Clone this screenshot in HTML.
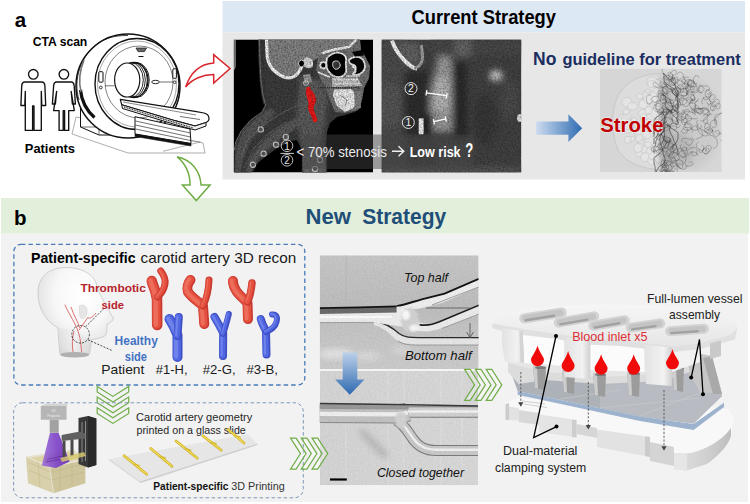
<!DOCTYPE html>
<html><head><meta charset="utf-8"><style>
html,body{margin:0;padding:0;background:#fff;}
body{width:750px;height:504px;overflow:hidden;font-family:"Liberation Sans",sans-serif;}
svg{display:block;}
</style></head><body>
<svg width="750" height="504" viewBox="0 0 750 504" font-family="Liberation Sans, sans-serif"><defs>
<linearGradient id="gArrowB" x1="0" y1="0" x2="1" y2="0"><stop offset="0" stop-color="#cddcef"/><stop offset="1" stop-color="#2f6cb3"/></linearGradient>
<linearGradient id="gArrowD" x1="0" y1="0" x2="0" y2="1"><stop offset="0" stop-color="#bcd0ea"/><stop offset="1" stop-color="#2e6ab0"/></linearGradient>
<filter id="b05" x="-10%" y="-10%" width="120%" height="120%"><feGaussianBlur stdDeviation="0.5"/></filter>
<filter id="b1" x="-10%" y="-10%" width="120%" height="120%"><feGaussianBlur stdDeviation="1"/></filter>
<filter id="b2" x="-20%" y="-20%" width="140%" height="140%"><feGaussianBlur stdDeviation="2"/></filter>
<filter id="b3" x="-30%" y="-30%" width="160%" height="160%"><feGaussianBlur stdDeviation="3"/></filter>
<filter id="b5" x="-40%" y="-40%" width="180%" height="180%"><feGaussianBlur stdDeviation="5"/></filter>
<filter id="nz" x="0" y="0" width="100%" height="100%"><feTurbulence type="fractalNoise" baseFrequency="0.6" numOctaves="2" seed="9" result="t"/><feColorMatrix in="t" type="matrix" values="0 0 0 0 0  0 0 0 0 0  0 0 0 0 0  0 0 0 1.6 -0.55" result="m"/><feComposite in="m" in2="SourceGraphic" operator="in"/></filter>
<filter id="nzw" x="0" y="0" width="100%" height="100%"><feTurbulence type="fractalNoise" baseFrequency="0.5" numOctaves="2" seed="5" result="t"/><feColorMatrix in="t" type="matrix" values="0 0 0 0 1  0 0 0 0 1  0 0 0 0 1  0 0 0 1.4 -0.6" result="m"/><feComposite in="m" in2="SourceGraphic" operator="in"/></filter>
<clipPath id="cCT1"><rect x="233.6" y="39.5" width="139.4" height="133"/></clipPath>
<clipPath id="cCT2"><rect x="381.6" y="39.5" width="139.8" height="133"/></clipPath>
<clipPath id="cSTK"><rect x="600" y="68.7" width="121.7" height="103.3"/></clipPath>
<clipPath id="cPH1"><rect x="319.7" y="255.3" width="158.9" height="113.9"/></clipPath>
<clipPath id="cPH2"><rect x="319.8" y="370.8" width="158.2" height="114.5"/></clipPath>
<radialGradient id="gHead" cx="0.58" cy="0.32" r="0.72"><stop offset="0" stop-color="#ffffff"/><stop offset="0.5" stop-color="#f7f7f7"/><stop offset="0.85" stop-color="#e2e2e2"/><stop offset="1" stop-color="#cdcdcd"/></radialGradient>
<linearGradient id="gNeck" x1="0" y1="0" x2="1" y2="0"><stop offset="0" stop-color="#d6d6d6"/><stop offset="0.5" stop-color="#f4f4f4"/><stop offset="1" stop-color="#d0d0d0"/></linearGradient>
<linearGradient id="gPurp" x1="0" y1="0" x2="1" y2="0"><stop offset="0" stop-color="#9a6ad8"/><stop offset="0.5" stop-color="#7a3ec6"/><stop offset="1" stop-color="#6428b4"/></linearGradient>
<linearGradient id="gPh1" x1="0" y1="0" x2="0" y2="1"><stop offset="0" stop-color="#c6c6c6"/><stop offset="0.45" stop-color="#bdbdbd"/><stop offset="0.65" stop-color="#c4c4c4"/><stop offset="1" stop-color="#cbcbcb"/></linearGradient>
<linearGradient id="gPh2" x1="0" y1="0" x2="1" y2="0"><stop offset="0" stop-color="#d4d4d4"/><stop offset="1" stop-color="#d8d8d8"/></linearGradient>
<linearGradient id="gTube" x1="0" y1="0" x2="0" y2="1"><stop offset="0" stop-color="#9a9a9a"/><stop offset="0.3" stop-color="#f2f2f2"/><stop offset="0.6" stop-color="#d8d8d8"/><stop offset="1" stop-color="#a8a8a8"/></linearGradient>
<linearGradient id="gRed" x1="0" y1="0" x2="1" y2="0"><stop offset="0" stop-color="#c8302a"/><stop offset="0.45" stop-color="#ea4a3c"/><stop offset="1" stop-color="#c02a24"/></linearGradient>
<linearGradient id="gVat" x1="0" y1="0" x2="0" y2="1"><stop offset="0" stop-color="#e4dab0"/><stop offset="1" stop-color="#cbbd85"/></linearGradient>
<linearGradient id="gSlab" x1="0" y1="0" x2="0" y2="1"><stop offset="0" stop-color="#f6f6f6"/><stop offset="1" stop-color="#e6e6e6"/></linearGradient>
<linearGradient id="gFront" x1="0" y1="0" x2="0" y2="1"><stop offset="0" stop-color="#e8e8e8"/><stop offset="1" stop-color="#d2d2d2"/></linearGradient>
<linearGradient id="gSlide" x1="0" y1="0" x2="1" y2="0"><stop offset="0" stop-color="#a2a9b2"/><stop offset="1" stop-color="#b9bfc6"/></linearGradient>
<linearGradient id="gLeg" x1="0" y1="0" x2="1" y2="0"><stop offset="0" stop-color="#e2e2e2"/><stop offset="0.7" stop-color="#f2f2f2"/><stop offset="1" stop-color="#cfcfcf"/></linearGradient>
<linearGradient id="gCurve" x1="0" y1="0" x2="1" y2="0"><stop offset="0" stop-color="#e0e0e0"/><stop offset="0.6" stop-color="#cfcfcf"/><stop offset="1" stop-color="#bdbdbd"/></linearGradient>
</defs>
<rect x="222.5" y="1" width="522.5" height="31.5" fill="#dde8f5"/>
<rect x="222.5" y="32.5" width="522.5" height="147" fill="#e7e7e7"/>
<text x="411.5" y="24" font-size="19.5" font-weight="bold" font-style="normal" fill="#000" text-anchor="start" textLength="144.5" lengthAdjust="spacingAndGlyphs" >Current Strategy</text>
<g clip-path="url(#cCT1)">
<rect x="233.6" y="39.5" width="139.4" height="133" fill="#000"/>
<path d="M259.5,39.5 L360,39.5 L361,50 L365,56 L370,66 L369,78 L364,88 L362,100 L360,108 L355,112 L345,115 L337,117 L330,123 L327,132 L326,145 L326.5,173 L302,173 L302,150 L297,140 L290,141 L283,145 L276,149 L268,155 L260,161 L253,168 L249,173 L234.4,173 L234.4,150 L235.8,141.9 L241.3,130.8 L251,119.7 L262,112 L265.5,105 L263,95 L261,80 L260,60 Z" fill="#3e3e3e" filter="url(#b05)"/>
<path d="M260.5,39.5 L261,60 L262,80 L264,95 L266,104" stroke="#3a3a3a" stroke-width="5" fill="none"/>
<path d="M236,150 L243,131 L253,121 L263,113 L270,108 L276,112 L268,122 L258,132 L250,142 L244,156 L240,173 L235,173 Z" fill="#565656" filter="url(#b1)"/>
<path d="M245,173 L250,158 L260,144 L273,132 L288,122 L300,116 L305,122 L292,131 L279,140 L267,150 L257,161 L252,173 Z" fill="#5a5a5a" filter="url(#b1)"/>
<path d="M240,160 L248,140 L262,126 L280,114 L296,106 M244,168 L254,148 L268,134 L286,122" stroke="#6e6e6e" stroke-width="1" fill="none" opacity="0.7"/>
<path d="M298,78 L324,80 L328,100 L324,130 L320,150 L303,150 L298,130 L296,100 Z" fill="#5c5c5c" filter="url(#b2)"/>
<path d="M303,148 L326,148 L326,173 L303,173 Z" fill="#6a6a6a" filter="url(#b1)"/>
<path d="M268,80 L298,80 L298,100 L270,106 Z" fill="#3c3c3c" filter="url(#b2)"/>
<path d="M259.5,39.5 L260,60 L261,80 L263,95 L265.5,105 L262,112 L251,119.7 L241.3,130.8 L235.8,141.9 L234.4,150" stroke="#7a7a7a" stroke-width="0.9" fill="none"/>
<path d="M268.5,39.5 L356,39.5 L349,47 L336,49 L324,52 L318,58 L308,64 L301,67 L297,74 L286,77 L276,72 L270,63 L268,50 Z" fill="#838383" />
<path d="M266.6,39.5 L267,55 C268,66 274,73 285,77.5 C292,79 297,76 300,70 L302,66" stroke="#f4f4f4" stroke-width="3.2" fill="none"/>
<path d="M322,53.5 C332,49.5 342,48 349,47 L356.5,39.5" stroke="#eee" stroke-width="2" fill="none"/>
<path d="M318,58 L324,52 L349,47 L356,39.5 L360,39.5 L361,50 L365,56 L370,66 L369,78 L364,88 L362,100 L358,110 L345,113 L335,112 L330,100 L324,85 L316,70 Z" fill="#727272" filter="url(#b05)"/>
<path d="M322,53.5 C332,49.5 342,48 349,47 L356.5,39.5" stroke="#eee" stroke-width="2.4" fill="none"/>
<g stroke="#efefef" stroke-width="1.8" stroke-linejoin="round">
<path d="M327,58 C331,54 336,52 340,53 C344,54 347,57 346,62 C345,66 348,70 345,74 C342,78 336,78 332,75 C328,72 325,66 327,58 Z" fill="#050505"/>
<path d="M349,60 C352,57 357,56 361,58 C365,61 366,66 364,70 C362,74 357,76 353,74 C356,71 357,67 354,65 C351,64 349,64 349,60 Z" fill="#050505"/>
<path d="M352,66 C355,68 357,70 355,73" fill="none"/>
<ellipse cx="323.3" cy="65.3" rx="3" ry="3.2" fill="#050505"/>
<path d="M333,62 C336,60 339,61 340,64 C341,67 338,70 335,69 C333,68 332,65 333,62 Z" fill="#3a3a3a" stroke-width="1"/>
</g>
<path d="M330,50 L342,49 M318,72 C322,74 326,76 330,77 M346,76 L360,76" stroke="#e8e8e8" stroke-width="1.4" fill="none"/>
<path d="M352,52 L362,50 L364,55.5 L355,56.5 Z" fill="#050505" />
<path d="M332,78 L358,77.5 L362,86 L332,87 Z" fill="#bdbdbd" filter="url(#b05)"/>
<path d="M333,80 L358,79.5 M335,84 L360,83.5" stroke="#efefef" stroke-width="1.2"/>
<path d="M318,87.8 L360,87.8" stroke="#1a1a1a" stroke-width="1.1" stroke-dasharray="1.2 1"/>
<path d="M334,89.5 L351,89 L357,95 L354,108 L345,112 L337,106 L333,96 Z" fill="#ececec" filter="url(#b05)"/>
<path d="M340,95 L347,100 L345,106" stroke="#888" stroke-width="1" fill="none"/>
<path d="M354,92 L361,92 L361,108 L355,110 Z" fill="#828282" filter="url(#b05)"/>
<ellipse cx="301.5" cy="63.5" rx="3" ry="3.5" fill="#000" stroke="#ddd" stroke-width="1"/>
<path d="M304,58 C310,56 314,60 313,66 C311,69 306,69 304,66 Z" fill="#d8d8d8" filter="url(#b05)"/>
<path d="M303,75 L310,74 L312,82 L305,84 Z" fill="#9a9a9a" filter="url(#b05)"/>
<circle cx="306" cy="83" r="2.4" fill="none" stroke="#ccc" stroke-width="1"/>
<path d="M308.5,89 C306.5,95 312,99 310.5,105 C309,111 314,113 315,120" stroke="#ee1a1a" stroke-width="4.6" fill="none" stroke-linecap="round"/>
<path d="M311,92 C314,96 316,100 313,104 C311,108 312,112 313.5,116" stroke="#e81818" stroke-width="3.2" fill="none" stroke-linecap="round"/>
<circle cx="253" cy="164.8" r="2.6" fill="#5a5a5a" stroke="#c4c4c4" stroke-width="1.2"/>
<circle cx="263.6" cy="153.7" r="2.6" fill="#5a5a5a" stroke="#c4c4c4" stroke-width="1.2"/>
<circle cx="276" cy="144.7" r="2.6" fill="#5a5a5a" stroke="#c4c4c4" stroke-width="1.2"/>
<circle cx="285.8" cy="137" r="2.6" fill="#5a5a5a" stroke="#c4c4c4" stroke-width="1.2"/>
<circle cx="260.8" cy="129.4" r="2.6" fill="#5a5a5a" stroke="#c4c4c4" stroke-width="1.2"/>
<circle cx="320" cy="160" r="2.6" fill="#5a5a5a" stroke="#c4c4c4" stroke-width="1.2"/>
<circle cx="315" cy="169" r="2.6" fill="#5a5a5a" stroke="#c4c4c4" stroke-width="1.2"/>
<rect x="233.6" y="39.5" width="139.4" height="133" fill="#000" filter="url(#nz)" opacity="0.45"/>
<path d="M235,39.5 L235,66 C235,68 234,69 233.6,70" stroke="#cfcfcf" stroke-width="1" fill="none"/>
</g>
<g clip-path="url(#cCT2)">
<rect x="381.6" y="39.5" width="139.8" height="133" fill="#424242"/>
<g filter="url(#b3)">
<rect x="378" y="39" width="28" height="134" fill="#4e4e4e"/>
<rect x="378" y="85" width="22" height="40" fill="#575757"/>
<path d="M395,42 L420,42 L422,64 L408,66 Z" fill="#626262"/>
<path d="M404,72 L428,70 L428,136 L404,136 Z" fill="#2e2e2e"/>
<path d="M438,56 L451,56 L453,80 L452,132 L429,132 L430,95 Z" fill="#9a9a9a"/>
<path d="M435,78 L448,78 L449,110 L433,110 Z" fill="#b6b6b6"/>
<path d="M452,62 L466,62 L468,173 L455,173 Z" fill="#2c2c2c"/>
<rect x="430" y="39" width="92" height="16" fill="#4a4a4a"/>
<rect x="455" y="39" width="16" height="18" fill="#666"/>
<ellipse cx="496" cy="75.5" rx="6.5" ry="5.5" fill="#d2d2d2"/>
<ellipse cx="485" cy="120" rx="12" ry="25" fill="#393939"/>
<ellipse cx="510" cy="100" rx="9" ry="20" fill="#4c4c4c"/>
<rect x="424" y="114" width="9" height="20" fill="#1e1e1e"/>
<rect x="436" y="140" width="34" height="33" fill="#4a4a4a"/>
<rect x="381" y="167" width="140" height="8" fill="#575757"/>
</g>
<path d="M392,40.5 C395,50 400,56 405,61 C410,66 414,68.5 417,68.5" stroke="#f2f2f2" stroke-width="4" fill="none" filter="url(#b05)"/>
<path d="M414,68 C418,68 422,64 422.6,58 L421.5,45" stroke="#9a9a9a" stroke-width="3" fill="none" filter="url(#b05)"/>
<rect x="418.7" y="118.3" width="4.9" height="16" fill="#f0f0f0" filter="url(#b05)"/>
<ellipse cx="520" cy="118" rx="3" ry="4" fill="#ddd" filter="url(#b05)"/>
<rect x="381.6" y="39.5" width="139.8" height="133" fill="#000" filter="url(#nz)" opacity="0.4"/>
</g>
<circle cx="411" cy="88.6" r="6" fill="none" stroke="#f4f4f4" stroke-width="0.9"/>
<text x="411" y="92.39999999999999" font-size="10.5" font-weight="normal" font-style="normal" fill="#f4f4f4" text-anchor="middle" >2</text>
<circle cx="408.3" cy="122.5" r="6" fill="none" stroke="#f4f4f4" stroke-width="0.9"/>
<text x="408.3" y="126.3" font-size="10.5" font-weight="normal" font-style="normal" fill="#f4f4f4" text-anchor="middle" >1</text>
<path d="M426.4,92.8 L446.7,95.6 M426.8,90.1 L426,95.5 M447.1,92.9 L446.3,98.3" stroke="#fff" stroke-width="1.3"/>
<path d="M433.9,121.7 L445.8,118.9 M433.4,119.1 L434.4,124.3 M445.3,116.3 L446.3,121.5" stroke="#fff" stroke-width="1.3"/>
<rect x="304" y="134.5" width="170" height="34.5" fill="rgb(67,67,67)" fill-opacity="0.47"/>
<circle cx="287" cy="145.8" r="5.8" fill="none" stroke="#e8e8e8" stroke-width="0.8"/>
<text x="287" y="149.5" font-size="10" font-weight="normal" font-style="normal" fill="#e8e8e8" text-anchor="middle" >1</text>
<circle cx="287" cy="160.3" r="5.8" fill="none" stroke="#e8e8e8" stroke-width="0.8"/>
<text x="287" y="164.0" font-size="10" font-weight="normal" font-style="normal" fill="#e8e8e8" text-anchor="middle" >2</text>
<rect x="280.5" y="152.9" width="13.3" height="0.9" fill="#e8e8e8"/>
<text x="296.6" y="156.5" font-size="14" font-weight="normal" font-style="normal" fill="#ececec" text-anchor="start" textLength="90.2" lengthAdjust="spacingAndGlyphs" >&lt; 70% stenosis</text>
<path d="M392,151.3 L403.5,151.3 M398.5,146.3 L403.8,151.3 L398.5,156.3" stroke="#f0f0f0" stroke-width="1.4" fill="none"/>
<text x="409.7" y="156.5" font-size="14" font-weight="bold" font-style="normal" fill="#fff" text-anchor="start" textLength="50.9" lengthAdjust="spacingAndGlyphs" >Low risk</text>
<text x="465.3" y="156.6" font-size="19.5" font-weight="bold" font-style="normal" fill="#fff" text-anchor="start" textLength="8" lengthAdjust="spacingAndGlyphs" >?</text>
<text x="533.1" y="64.7" font-size="18.2" font-weight="bold" font-style="normal" fill="#1a2d60" text-anchor="start" textLength="23.3" lengthAdjust="spacingAndGlyphs" >No</text>
<text x="562.4" y="64.7" font-size="16" font-weight="bold" font-style="normal" fill="#1a2d60" text-anchor="start" textLength="178.3" lengthAdjust="spacingAndGlyphs" >guideline for treatment</text>
<path d="M536.1,121.6 L568.4,121.6 L568.4,114.3 L582.2,128.2 L568.4,142.1 L568.4,134.8 L536.1,134.8 Z" fill="url(#gArrowB)"/>
<g clip-path="url(#cSTK)">
<rect x="600" y="68.7" width="121.7" height="103.3" fill="#d6d6d6"/>
<path d="M666,74 C642,72 624,82 617,98 C611,112 611,134 618,150 C626,163 644,170 666,170 Z" fill="#dcdcdc"/>
<g fill="#e4e4e4" stroke="#c6c6c6" stroke-width="0.6"><ellipse cx="639.5" cy="128.4" rx="4.8" ry="4.3" transform="rotate(91 639.5 128.4)"/><ellipse cx="646.5" cy="94.6" rx="4.0" ry="3.8" transform="rotate(143 646.5 94.6)"/><ellipse cx="652.1" cy="81.8" rx="5.0" ry="5.4" transform="rotate(118 652.1 81.8)"/><ellipse cx="648.0" cy="92.2" rx="3.0" ry="2.8" transform="rotate(11 648.0 92.2)"/><ellipse cx="643.0" cy="135.6" rx="4.0" ry="3.9" transform="rotate(82 643.0 135.6)"/><ellipse cx="667.8" cy="153.6" rx="4.4" ry="3.6" transform="rotate(41 667.8 153.6)"/><ellipse cx="655.8" cy="114.0" rx="4.7" ry="4.0" transform="rotate(172 655.8 114.0)"/><ellipse cx="648.7" cy="148.1" rx="3.5" ry="2.6" transform="rotate(60 648.7 148.1)"/><ellipse cx="666.1" cy="146.2" rx="3.2" ry="2.6" transform="rotate(18 666.1 146.2)"/><ellipse cx="625.2" cy="128.3" rx="3.9" ry="3.0" transform="rotate(132 625.2 128.3)"/><ellipse cx="627.1" cy="102.3" rx="4.9" ry="5.0" transform="rotate(55 627.1 102.3)"/><ellipse cx="662.0" cy="97.0" rx="3.8" ry="3.9" transform="rotate(116 662.0 97.0)"/><ellipse cx="656.2" cy="107.6" rx="3.6" ry="2.6" transform="rotate(16 656.2 107.6)"/><ellipse cx="646.3" cy="99.9" rx="4.2" ry="3.6" transform="rotate(82 646.3 99.9)"/><ellipse cx="665.9" cy="121.5" rx="4.1" ry="4.3" transform="rotate(33 665.9 121.5)"/><ellipse cx="658.5" cy="100.5" rx="3.4" ry="3.4" transform="rotate(169 658.5 100.5)"/><ellipse cx="661.9" cy="132.3" rx="3.8" ry="2.8" transform="rotate(7 661.9 132.3)"/><ellipse cx="666.1" cy="99.5" rx="4.4" ry="3.5" transform="rotate(148 666.1 99.5)"/><ellipse cx="647.0" cy="104.4" rx="3.4" ry="3.3" transform="rotate(12 647.0 104.4)"/><ellipse cx="627.9" cy="128.3" rx="4.7" ry="4.4" transform="rotate(50 627.9 128.3)"/><ellipse cx="663.7" cy="96.4" rx="3.0" ry="2.4" transform="rotate(80 663.7 96.4)"/><ellipse cx="635.2" cy="129.5" rx="3.3" ry="2.8" transform="rotate(160 635.2 129.5)"/><ellipse cx="667.0" cy="137.1" rx="4.4" ry="4.1" transform="rotate(25 667.0 137.1)"/><ellipse cx="663.3" cy="141.1" rx="4.9" ry="3.5" transform="rotate(115 663.3 141.1)"/><ellipse cx="641.1" cy="143.7" rx="3.6" ry="4.0" transform="rotate(14 641.1 143.7)"/><ellipse cx="644.4" cy="144.3" rx="4.8" ry="4.8" transform="rotate(127 644.4 144.3)"/><ellipse cx="657.2" cy="160.4" rx="3.7" ry="3.6" transform="rotate(162 657.2 160.4)"/><ellipse cx="661.3" cy="115.5" rx="4.6" ry="4.8" transform="rotate(103 661.3 115.5)"/><ellipse cx="648.5" cy="112.4" rx="4.2" ry="3.9" transform="rotate(14 648.5 112.4)"/><ellipse cx="661.7" cy="143.5" rx="3.8" ry="3.8" transform="rotate(105 661.7 143.5)"/><ellipse cx="638.9" cy="153.5" rx="3.2" ry="3.2" transform="rotate(5 638.9 153.5)"/><ellipse cx="647.3" cy="121.3" rx="3.5" ry="3.4" transform="rotate(90 647.3 121.3)"/><ellipse cx="631.7" cy="139.0" rx="3.4" ry="2.6" transform="rotate(163 631.7 139.0)"/><ellipse cx="650.3" cy="117.8" rx="4.8" ry="4.0" transform="rotate(120 650.3 117.8)"/><ellipse cx="626.3" cy="116.8" rx="4.6" ry="4.9" transform="rotate(158 626.3 116.8)"/><ellipse cx="636.0" cy="130.5" rx="3.6" ry="2.7" transform="rotate(89 636.0 130.5)"/><ellipse cx="659.5" cy="154.4" rx="4.4" ry="4.8" transform="rotate(50 659.5 154.4)"/><ellipse cx="624.8" cy="118.6" rx="3.6" ry="2.8" transform="rotate(75 624.8 118.6)"/><ellipse cx="648.5" cy="122.4" rx="3.6" ry="3.8" transform="rotate(177 648.5 122.4)"/><ellipse cx="645.7" cy="105.8" rx="4.6" ry="3.2" transform="rotate(24 645.7 105.8)"/><ellipse cx="659.1" cy="99.4" rx="3.3" ry="2.4" transform="rotate(113 659.1 99.4)"/><ellipse cx="639.2" cy="134.7" rx="4.3" ry="4.4" transform="rotate(173 639.2 134.7)"/><ellipse cx="651.6" cy="95.9" rx="4.0" ry="3.0" transform="rotate(2 651.6 95.9)"/><ellipse cx="640.6" cy="142.3" rx="3.4" ry="2.7" transform="rotate(62 640.6 142.3)"/><ellipse cx="652.3" cy="124.8" rx="4.2" ry="4.2" transform="rotate(71 652.3 124.8)"/><ellipse cx="657.2" cy="159.6" rx="3.2" ry="3.4" transform="rotate(130 657.2 159.6)"/><ellipse cx="622.8" cy="118.8" rx="4.3" ry="4.5" transform="rotate(68 622.8 118.8)"/><ellipse cx="645.6" cy="157.1" rx="4.6" ry="5.0" transform="rotate(83 645.6 157.1)"/><ellipse cx="649.9" cy="96.4" rx="4.4" ry="4.6" transform="rotate(115 649.9 96.4)"/><ellipse cx="653.3" cy="97.2" rx="4.8" ry="5.2" transform="rotate(176 653.3 97.2)"/><ellipse cx="643.9" cy="149.2" rx="3.6" ry="3.9" transform="rotate(154 643.9 149.2)"/><ellipse cx="638.9" cy="127.5" rx="4.5" ry="4.1" transform="rotate(5 638.9 127.5)"/><ellipse cx="658.1" cy="83.8" rx="4.6" ry="3.5" transform="rotate(60 658.1 83.8)"/><ellipse cx="657.0" cy="90.6" rx="3.3" ry="3.0" transform="rotate(130 657.0 90.6)"/><ellipse cx="659.7" cy="140.0" rx="4.9" ry="4.4" transform="rotate(171 659.7 140.0)"/><ellipse cx="643.4" cy="104.1" rx="4.5" ry="4.3" transform="rotate(94 643.4 104.1)"/><ellipse cx="659.9" cy="128.4" rx="3.6" ry="3.1" transform="rotate(152 659.9 128.4)"/><ellipse cx="662.8" cy="96.7" rx="4.7" ry="5.1" transform="rotate(94 662.8 96.7)"/><ellipse cx="645.8" cy="96.1" rx="4.1" ry="3.7" transform="rotate(109 645.8 96.1)"/><ellipse cx="642.8" cy="114.1" rx="4.6" ry="4.3" transform="rotate(88 642.8 114.1)"/><ellipse cx="651.9" cy="83.9" rx="4.1" ry="3.5" transform="rotate(172 651.9 83.9)"/><ellipse cx="664.0" cy="102.2" rx="3.9" ry="3.0" transform="rotate(78 664.0 102.2)"/><ellipse cx="658.4" cy="159.0" rx="4.0" ry="3.3" transform="rotate(34 658.4 159.0)"/><ellipse cx="627.8" cy="139.8" rx="3.6" ry="3.1" transform="rotate(112 627.8 139.8)"/><ellipse cx="643.6" cy="117.3" rx="3.8" ry="3.2" transform="rotate(95 643.6 117.3)"/><ellipse cx="648.8" cy="135.5" rx="4.1" ry="4.2" transform="rotate(110 648.8 135.5)"/><ellipse cx="660.6" cy="98.9" rx="4.5" ry="4.6" transform="rotate(162 660.6 98.9)"/><ellipse cx="632.4" cy="106.3" rx="4.8" ry="3.8" transform="rotate(180 632.4 106.3)"/><ellipse cx="662.2" cy="90.1" rx="3.5" ry="3.4" transform="rotate(47 662.2 90.1)"/><ellipse cx="637.9" cy="149.1" rx="3.3" ry="2.8" transform="rotate(123 637.9 149.1)"/><ellipse cx="651.5" cy="160.0" rx="4.9" ry="3.7" transform="rotate(91 651.5 160.0)"/><ellipse cx="655.4" cy="123.3" rx="4.4" ry="3.4" transform="rotate(13 655.4 123.3)"/><ellipse cx="644.7" cy="124.3" rx="4.1" ry="3.1" transform="rotate(33 644.7 124.3)"/><ellipse cx="667.5" cy="161.4" rx="3.2" ry="2.3" transform="rotate(171 667.5 161.4)"/><ellipse cx="640.0" cy="146.8" rx="3.7" ry="3.2" transform="rotate(93 640.0 146.8)"/><ellipse cx="638.4" cy="132.1" rx="3.0" ry="3.0" transform="rotate(152 638.4 132.1)"/><ellipse cx="625.4" cy="118.9" rx="4.5" ry="3.9" transform="rotate(35 625.4 118.9)"/><ellipse cx="624.6" cy="124.1" rx="3.0" ry="3.2" transform="rotate(144 624.6 124.1)"/><ellipse cx="652.6" cy="155.5" rx="4.3" ry="3.7" transform="rotate(108 652.6 155.5)"/><ellipse cx="657.9" cy="101.2" rx="4.8" ry="4.8" transform="rotate(140 657.9 101.2)"/><ellipse cx="658.4" cy="114.5" rx="4.8" ry="5.0" transform="rotate(125 658.4 114.5)"/><ellipse cx="655.9" cy="146.9" rx="3.8" ry="3.8" transform="rotate(13 655.9 146.9)"/><ellipse cx="633.8" cy="120.2" rx="3.0" ry="2.5" transform="rotate(115 633.8 120.2)"/><ellipse cx="648.4" cy="98.9" rx="4.9" ry="4.7" transform="rotate(61 648.4 98.9)"/><ellipse cx="650.3" cy="129.3" rx="4.1" ry="3.5" transform="rotate(180 650.3 129.3)"/><ellipse cx="649.4" cy="141.1" rx="4.5" ry="4.9" transform="rotate(4 649.4 141.1)"/><ellipse cx="648.0" cy="144.5" rx="3.5" ry="3.0" transform="rotate(9 648.0 144.5)"/><ellipse cx="626.2" cy="111.8" rx="3.2" ry="2.6" transform="rotate(163 626.2 111.8)"/><ellipse cx="644.6" cy="123.7" rx="4.9" ry="4.6" transform="rotate(179 644.6 123.7)"/><ellipse cx="649.2" cy="150.9" rx="3.2" ry="3.0" transform="rotate(137 649.2 150.9)"/><ellipse cx="624.3" cy="120.5" rx="3.3" ry="3.0" transform="rotate(110 624.3 120.5)"/><ellipse cx="637.9" cy="125.4" rx="4.2" ry="3.6" transform="rotate(51 637.9 125.4)"/><ellipse cx="650.1" cy="128.5" rx="3.6" ry="3.5" transform="rotate(53 650.1 128.5)"/><ellipse cx="655.2" cy="113.1" rx="4.8" ry="4.8" transform="rotate(9 655.2 113.1)"/><ellipse cx="667.4" cy="163.0" rx="3.1" ry="3.3" transform="rotate(77 667.4 163.0)"/><ellipse cx="628.7" cy="125.1" rx="4.9" ry="4.8" transform="rotate(84 628.7 125.1)"/><ellipse cx="666.9" cy="151.5" rx="4.2" ry="3.1" transform="rotate(112 666.9 151.5)"/><ellipse cx="639.7" cy="96.3" rx="3.1" ry="2.8" transform="rotate(22 639.7 96.3)"/><ellipse cx="639.0" cy="138.1" rx="3.9" ry="3.1" transform="rotate(105 639.0 138.1)"/><ellipse cx="637.8" cy="148.0" rx="4.1" ry="4.5" transform="rotate(171 637.8 148.0)"/><ellipse cx="654.2" cy="99.5" rx="3.2" ry="3.4" transform="rotate(141 654.2 99.5)"/><ellipse cx="648.5" cy="110.3" rx="3.5" ry="3.5" transform="rotate(102 648.5 110.3)"/><ellipse cx="646.8" cy="135.0" rx="4.5" ry="3.5" transform="rotate(45 646.8 135.0)"/></g>
<path d="M666,74 C642,72 624,82 617,98 C611,112 611,134 618,150 C626,163 644,170 666,170" stroke="#c8c8c8" stroke-width="1" fill="none"/>
<ellipse cx="690" cy="124" rx="30" ry="46" fill="#b8b8b8" opacity="0.35" filter="url(#b3)"/>
<ellipse cx="676" cy="150" rx="18" ry="18" fill="#888" opacity="0.3" filter="url(#b3)"/>
<rect x="659" y="76" width="12" height="96" fill="#7a7a7a" opacity="0.3" filter="url(#b2)"/>
<path d="M665.0,137.8 666.6,138.4 667.6,139.8 667.0,141.4 666.3,142.9 665.7,144.5 664.7,145.9 663.4,147.0 661.8,147.5 660.2,148.1 658.5,147.9 657.9,146.3 658.3,144.6 659.5,143.4 660.6,142.1 662.2,141.5 663.7,140.8 M668.0,95.7 666.6,94.8 665.1,94.0 663.6,93.2 662.3,92.1 662.2,90.4 662.2,88.7 663.1,87.3 664.7,86.6 666.4,86.5 667.9,87.1 M667.3,94.2 667.9,92.6 669.1,91.4 670.8,91.7 672.3,92.5 673.7,93.5 675.1,94.5 675.3,96.2 675.6,97.8 675.7,99.5 675.0,101.1 673.9,102.4 672.5,103.3 670.8,103.2 669.1,103.2 M666.5,124.2 667.4,125.6 667.6,127.3 668.0,129.0 667.3,130.5 665.7,131.1 664.1,130.8 663.3,129.3 662.9,127.6 663.7,126.1 665.1,125.2 666.8,125.3 668.4,126.0 668.8,127.6 M670.3,139.1 671.2,140.5 670.3,142.0 668.6,142.3 666.9,142.2 665.3,141.7 664.3,140.3 663.2,139.1 662.6,137.5 662.0,135.9 661.3,134.3 660.5,132.8 661.0,131.2 M664.5,86.7 663.0,87.6 661.4,87.9 659.7,88.1 658.0,87.8 656.4,87.2 654.8,86.7 653.5,85.6 652.9,84.0 653.5,82.4 655.1,82.2 656.6,83.0 657.7,84.3 658.7,85.7 659.8,87.0 M669.4,75.2 670.4,73.8 671.2,72.3 672.4,71.1 673.9,70.3 675.6,70.4 676.4,71.9 676.0,73.5 675.0,74.9 673.3,75.4 671.8,74.7 M670.8,79.3 672.4,78.8 674.1,78.7 675.8,78.6 677.2,79.5 678.8,80.2 680.4,80.8 681.9,81.4 683.5,82.1 684.9,83.1 686.3,84.0 688.0,84.5 689.6,85.0 691.2,85.4 692.7,86.3 694.3,86.8 694.8,88.5 M664.3,98.7 662.8,99.6 661.4,100.6 659.7,100.8 658.7,99.5 658.3,97.8 658.3,96.1 658.2,94.4 659.3,93.2 661.0,93.0 662.6,93.6 663.5,95.1 663.6,96.8 663.5,98.5 M664.5,167.3 662.8,167.1 661.8,165.8 661.0,164.3 661.3,162.6 661.4,160.9 662.8,159.9 664.5,159.7 665.6,161.0 666.3,162.5 666.9,164.1 666.7,165.8 665.7,167.2 664.1,167.8 662.5,167.4 661.7,165.9 662.2,164.2 M667.0,113.3 668.2,112.1 669.7,111.3 671.1,110.2 672.2,109.0 673.5,107.9 675.0,107.1 676.7,107.3 677.3,108.9 677.2,110.6 675.8,111.5 674.3,110.6 M668.8,167.6 667.8,168.9 666.3,169.8 664.6,170.2 663.0,170.0 662.4,168.3 662.8,166.7 662.9,165.0 664.4,164.2 666.1,163.7 667.6,164.3 668.2,165.9 M668.9,143.7 668.8,145.4 667.8,146.8 666.8,148.2 665.1,148.1 663.9,146.9 663.3,145.3 663.9,143.7 664.4,142.1 664.9,140.5 666.6,140.2 M668.7,76.7 668.5,75.0 668.2,73.3 669.3,72.1 670.9,72.4 672.0,73.7 672.8,75.2 672.7,76.9 672.6,78.6 672.8,80.3 671.5,81.4 669.8,81.4 668.3,80.6 668.1,78.9 668.6,77.3 670.2,76.7 M667.3,98.7 665.8,99.5 664.2,100.0 662.5,99.6 661.7,98.1 660.8,96.7 661.1,95.0 662.6,94.3 664.3,94.7 665.1,96.2 665.1,97.9 663.8,99.0 M663.6,160.1 664.0,161.7 664.7,163.2 664.9,164.9 664.9,166.6 665.3,168.3 664.3,169.7 663.3,171.0 661.9,171.9 660.2,171.5 658.9,170.4 M663.8,128.4 665.3,127.8 666.8,126.9 668.3,126.1 669.7,125.1 671.0,124.0 672.6,123.5 674.1,122.7 675.6,123.5 677.2,124.1 M670.3,105.9 672.0,105.7 673.7,105.8 675.2,106.6 675.5,108.3 675.1,109.9 674.5,111.5 673.2,112.6 671.6,112.3 671.0,110.7 672.0,109.3 673.7,109.4 675.4,109.6 676.9,110.4 678.0,111.6 678.8,113.2 679.1,114.8 M664.0,94.8 662.4,95.3 660.7,95.8 659.2,95.0 658.4,93.5 657.7,92.0 658.5,90.5 660.2,90.4 661.9,90.5 662.6,92.0 M662.3,113.0 660.6,113.2 659.0,112.7 657.7,111.5 656.8,110.1 656.0,108.6 655.5,107.0 656.2,105.4 656.6,103.8 657.8,102.6 659.4,101.9 660.8,100.9 M663.3,124.2 663.4,125.9 663.7,127.6 663.8,129.3 664.0,130.9 663.0,132.3 661.8,133.5 660.6,134.7 659.1,135.5 657.6,134.6 657.3,133.0 657.3,131.3 M670.9,88.6 672.5,89.0 674.2,89.2 675.9,89.2 677.2,90.2 678.1,91.7 679.1,93.1 678.5,94.6 677.1,95.6 675.4,95.1 673.7,94.8 673.0,93.3 672.0,91.8 672.6,90.2 673.7,89.0 675.1,88.0 M657.4,100.3 657.4,101.9 656.0,102.9 654.5,102.1 653.1,101.1 651.7,100.1 651.9,98.4 653.0,97.1 654.6,96.5 656.2,96.0 657.9,96.1 659.1,97.3 660.2,98.6 659.9,100.3 658.3,100.8 656.8,101.5 655.4,102.5 M663.0,123.6 664.6,124.0 665.1,125.7 665.7,127.3 664.8,128.7 663.5,129.8 661.9,130.2 660.5,129.2 659.5,127.8 659.3,126.1 660.1,124.7 661.8,124.7 663.4,125.2 664.1,126.8 663.6,128.4 662.2,129.4 660.6,129.9 M665.2,86.7 666.4,87.9 667.7,89.0 668.1,90.7 668.0,92.4 667.2,93.8 665.5,93.8 664.1,92.9 663.6,91.2 662.9,89.7 662.3,88.1 661.9,86.4 661.2,84.9 M667.1,109.7 666.0,111.0 665.1,112.4 663.4,112.5 661.7,112.5 660.0,112.4 658.4,111.9 656.7,111.6 655.1,110.9 654.2,109.5 653.5,108.0 654.1,106.4 654.6,104.7 656.2,104.1 657.7,103.4 659.4,103.6 660.9,104.3 M664.3,82.3 665.8,82.9 666.6,84.4 665.8,85.9 664.6,87.1 663.1,88.0 661.7,87.2 660.2,86.3 659.7,84.7 660.2,83.1 660.5,81.4 M671.4,155.9 673.1,156.0 674.1,157.3 675.1,158.7 675.4,160.4 675.0,162.0 673.4,162.7 671.9,162.0 671.4,160.3 671.9,158.7 673.5,158.2 675.1,158.8 675.9,160.3 676.6,161.9 677.5,163.3 M668.5,84.3 669.2,82.7 669.6,81.1 670.7,79.8 672.0,78.6 673.4,77.7 675.0,77.4 676.7,76.8 678.0,77.9 677.8,79.6 677.7,81.3 676.9,82.8 675.3,83.3 673.6,83.1 672.7,81.7 673.2,80.1 673.8,78.5 M668.8,148.1 668.3,149.7 667.3,151.1 665.8,152.0 664.1,151.7 663.2,150.3 663.1,148.6 664.1,147.3 665.0,145.8 665.8,144.3 666.8,142.9 668.5,142.7 670.2,142.7 671.6,143.7 673.2,144.3 674.9,144.8 M665.3,141.8 665.7,140.2 666.4,138.6 667.7,137.5 669.4,137.6 670.1,139.1 669.9,140.8 669.4,142.5 669.1,144.1 668.1,145.5 666.9,146.7 665.8,148.0 664.2,148.7 M671.9,171.5 673.6,171.5 674.5,173.0 675.2,174.6 675.0,176.2 674.8,177.9 673.9,179.3 672.2,179.3 670.5,179.2 669.4,177.9 669.0,176.2 670.2,175.0 671.9,174.8 673.6,174.7 674.5,176.1 M665.1,74.4 663.5,73.9 662.6,72.4 662.2,70.8 662.4,69.1 662.4,67.4 662.9,65.7 663.7,64.2 664.8,63.0 666.3,62.1 667.8,62.9 669.2,63.8 670.8,64.4 671.5,66.0 672.0,67.6 672.7,69.1 M666.1,112.2 667.5,111.3 669.2,111.0 670.9,111.0 672.6,110.7 674.2,110.3 675.6,111.3 676.7,112.5 676.3,114.2 675.7,115.7 M665.5,92.6 663.8,92.3 662.9,90.9 663.0,89.2 664.5,88.4 666.0,89.2 666.9,90.6 666.6,92.3 666.5,94.0 665.3,95.2 663.8,95.8 662.2,95.2 661.3,93.7 660.7,92.2 659.8,90.7 M670.8,164.8 671.5,166.4 671.9,168.0 672.1,169.7 671.1,171.1 669.5,171.6 667.8,171.5 666.1,171.3 664.7,170.3 664.2,168.7 663.5,167.2 664.0,165.5 664.2,163.8 665.2,162.4 666.9,162.3 668.5,162.9 M662.6,148.4 661.0,149.1 659.5,149.9 657.8,150.3 656.2,150.8 654.6,151.2 652.9,151.3 651.4,150.6 651.1,148.9 652.1,147.5 653.5,146.5 655.1,146.1 656.8,146.4 658.3,147.2 659.5,148.4 660.9,149.3 662.1,150.5 M667.0,168.8 667.5,170.5 666.7,171.9 665.0,172.1 663.3,172.5 662.1,171.3 661.2,169.9 661.5,168.2 662.2,166.7 663.3,165.4 665.0,165.3 665.9,166.8 666.8,168.2 667.2,169.9 666.2,171.3 664.6,171.6 663.5,170.2 M664.4,165.2 666.0,165.9 666.1,167.6 665.9,169.3 665.9,171.0 665.9,172.7 665.1,174.2 663.5,174.8 662.1,173.8 661.8,172.2 662.5,170.6 664.1,170.1 665.8,170.2 667.2,171.1 668.8,171.8 669.3,173.4 669.7,175.1 M666.1,164.2 666.7,162.6 668.2,161.7 669.9,161.5 671.5,162.0 672.3,163.5 673.2,165.0 673.8,166.6 672.8,167.9 671.7,169.2 670.4,170.3 668.7,170.1 667.0,170.3 M653.0,101.3 651.7,102.4 650.3,103.4 648.8,104.3 647.4,103.4 646.9,101.8 646.7,100.1 646.2,98.5 646.4,96.8 647.7,95.7 649.3,95.0 650.9,94.6 M662.9,139.4 664.6,139.3 665.9,140.4 666.2,142.1 666.0,143.8 665.3,145.3 664.9,147.0 664.2,148.5 662.6,149.0 661.0,149.6 659.3,149.5 657.6,149.3 M666.3,119.6 666.2,121.3 665.2,122.6 663.6,123.2 662.2,122.2 661.4,120.7 662.2,119.2 662.7,117.6 664.1,116.6 665.7,117.2 667.4,117.5 669.0,117.6 670.4,118.6 M663.4,114.7 663.5,113.0 664.9,112.1 666.5,112.8 667.2,114.3 666.1,115.7 664.4,115.5 662.8,114.9 661.3,114.2 661.0,112.6 662.0,111.2 M671.8,111.1 670.2,111.8 668.7,112.6 667.3,113.5 666.0,114.6 664.4,115.1 663.0,114.1 662.3,112.5 662.9,111.0 664.0,109.6 665.7,109.4 667.3,109.6 668.3,111.0 669.5,112.3 M702.2,93.0 700.6,92.5 699.2,91.5 699.1,89.8 698.8,88.2 699.1,86.5 700.5,85.6 702.2,86.0 703.9,86.1 705.6,86.0 707.2,85.7 708.4,86.9 709.4,88.3 709.2,90.0 707.6,90.7 706.0,91.1 M677.5,166.9 677.4,165.2 678.4,163.8 680.1,163.9 681.8,164.3 682.7,165.8 682.7,167.5 681.5,168.6 679.8,168.1 678.2,167.8 677.3,166.3 676.4,164.9 676.6,163.2 M688.5,149.3 690.1,148.5 691.6,147.7 693.3,147.7 694.9,147.3 696.1,148.5 697.1,149.9 696.9,151.6 696.8,153.2 696.4,154.9 694.9,155.6 693.2,155.7 692.0,154.6 691.6,152.9 692.0,151.2 M684.3,89.5 682.6,89.8 681.1,89.2 679.5,88.6 678.2,87.5 676.8,86.4 675.4,85.6 674.7,84.0 674.1,82.4 M669.6,118.7 671.3,118.9 672.2,120.3 672.1,122.0 672.0,123.7 670.6,124.7 669.1,125.4 667.4,125.3 665.8,124.7 665.1,123.2 664.5,121.6 664.0,119.9 M676.0,88.9 677.5,88.0 679.1,87.7 680.2,89.1 680.6,90.7 680.7,92.4 679.6,93.7 677.9,94.0 676.9,92.6 675.7,91.4 675.2,89.8 676.1,88.3 M664.3,102.5 664.7,104.1 663.7,105.5 662.6,106.8 661.7,108.2 660.2,109.1 658.7,109.9 657.0,109.7 656.0,108.4 656.0,106.7 655.6,105.0 656.3,103.5 M702.5,107.9 704.1,108.3 705.7,108.8 707.3,109.5 708.2,110.9 708.1,112.6 707.9,114.3 708.0,116.0 707.7,117.6 706.4,118.7 705.0,119.8 703.5,120.6 702.0,121.2 700.4,120.5 M693.2,80.1 693.7,81.8 694.1,83.4 693.8,85.1 692.5,86.2 690.9,86.8 689.2,87.2 688.1,85.9 688.0,84.2 688.5,82.6 688.8,80.9 690.2,79.9 691.8,80.4 693.2,81.4 694.7,82.2 M705.7,151.8 705.8,150.1 706.1,148.4 706.0,146.7 707.4,145.7 709.0,145.2 710.4,146.1 711.5,147.5 711.0,149.1 709.9,150.4 708.9,151.8 708.0,153.2 706.6,154.1 704.9,154.0 704.1,152.5 M667.1,134.4 665.9,135.6 664.4,136.4 662.9,137.3 661.5,138.1 660.1,139.1 658.5,139.6 656.9,138.9 656.5,137.2 657.4,135.8 658.6,134.6 660.2,134.7 661.9,134.6 663.0,135.9 663.7,137.5 663.4,139.1 662.3,140.4 M666.9,143.1 667.3,141.4 668.9,140.8 670.6,141.1 671.7,142.3 672.9,143.6 673.4,145.2 673.0,146.8 672.9,148.5 671.4,149.3 669.8,150.1 M682.5,88.5 684.1,87.9 685.7,88.3 686.7,89.7 687.8,90.9 687.6,92.6 687.4,94.3 686.3,95.6 684.8,96.3 683.1,95.8 681.6,95.1 680.4,93.9 M695.2,115.3 695.0,113.6 694.9,111.9 694.4,110.3 695.6,109.1 697.2,108.5 698.9,108.5 700.3,109.5 700.4,111.2 699.2,112.4 697.5,112.2 695.9,111.6 694.3,111.1 692.9,110.2 691.7,108.9 691.9,107.2 M690.7,137.7 692.4,138.0 693.5,139.4 693.2,141.0 692.2,142.4 691.4,143.9 690.0,144.9 688.4,145.5 687.1,144.4 685.8,143.3 685.8,141.6 M708.5,92.8 710.2,92.9 711.2,94.2 710.9,95.9 709.6,97.0 707.9,97.0 706.2,96.7 705.3,95.3 705.3,93.6 705.6,91.9 706.2,90.4 707.6,89.4 709.2,90.0 710.4,91.2 711.5,92.5 710.8,94.1 M689.4,131.4 688.4,130.0 687.2,128.8 686.0,127.6 684.9,126.3 685.3,124.7 686.7,123.7 688.3,124.3 689.9,124.9 690.5,126.5 691.2,128.1 691.1,129.8 M698.3,108.9 699.9,108.4 701.5,109.0 701.9,110.6 702.0,112.3 701.4,113.9 699.8,114.3 698.3,113.5 697.0,112.3 696.2,110.9 695.8,109.2 695.4,107.6 695.4,105.9 695.2,104.2 695.2,102.5 696.2,101.1 697.9,101.2 M678.9,124.1 677.4,124.8 675.7,124.2 674.2,123.5 672.8,122.6 672.2,121.0 672.2,119.3 672.6,117.7 672.8,116.0 673.7,114.5 675.2,113.8 676.7,112.9 678.0,111.8 679.7,111.6 M679.3,124.7 678.1,123.6 677.7,121.9 677.4,120.2 678.1,118.7 679.4,117.6 680.7,116.4 682.3,116.9 683.9,117.6 685.5,118.2 687.1,118.8 688.1,120.1 687.6,121.8 686.0,122.5 684.3,122.7 M677.1,75.1 677.6,73.5 678.9,72.4 680.5,72.1 682.1,72.9 683.1,74.2 683.5,75.9 683.9,77.5 684.5,79.1 685.4,80.6 686.5,81.9 687.5,83.2 688.5,84.6 688.0,86.2 687.5,87.8 686.2,88.9 684.5,89.0 M673.2,114.1 672.0,112.9 671.2,111.4 671.4,109.7 672.4,108.3 673.1,106.8 674.6,106.0 676.0,106.9 676.4,108.6 676.1,110.3 675.0,111.6 673.6,112.5 671.9,112.9 670.7,111.7 669.4,110.7 668.9,109.0 668.6,107.4 M698.7,86.0 700.4,86.0 702.1,86.3 703.4,87.4 704.2,88.9 703.6,90.5 702.4,91.7 701.0,92.7 699.3,92.7 698.5,91.2 697.8,89.6 698.7,88.2 699.3,86.6 M676.8,96.9 678.0,95.6 679.4,94.7 681.0,95.2 682.4,96.1 683.8,97.1 683.6,98.8 682.5,100.1 680.9,100.4 679.4,99.6 679.3,97.9 M688.8,155.5 688.8,153.8 690.0,152.5 691.7,152.1 693.4,152.0 695.1,152.1 696.4,153.1 697.9,154.0 698.0,155.7 M670.2,76.6 671.3,78.0 672.3,79.3 673.6,80.4 675.0,81.4 675.5,83.0 674.9,84.6 673.4,85.5 671.7,85.1 670.1,84.8 668.8,83.8 M682.7,153.3 684.4,153.0 685.8,153.9 686.2,155.6 686.2,157.3 685.9,158.9 685.5,160.6 685.4,162.3 683.9,163.1 682.4,162.2 M704.8,135.3 703.2,135.7 701.7,134.8 700.4,133.8 699.2,132.5 698.6,130.9 697.7,129.5 697.1,127.9 696.7,126.3 697.4,124.8 698.6,123.5 M680.3,167.5 678.9,166.5 677.4,165.7 676.2,164.5 675.5,163.0 676.2,161.4 677.3,160.0 678.9,159.7 680.5,160.2 682.1,160.8 682.6,162.5 683.2,164.1 682.3,165.6 M671.7,74.1 672.5,75.6 672.6,77.3 672.0,78.9 670.4,79.5 668.8,80.0 667.1,79.8 665.5,79.2 665.0,77.5 M676.9,165.6 675.3,166.1 673.6,166.5 671.9,166.9 670.8,165.7 670.8,164.0 671.5,162.5 673.2,162.4 674.7,163.3 676.3,164.0 677.6,165.0 679.0,166.0 M704.5,114.9 703.5,113.5 702.8,112.0 703.7,110.5 705.1,109.6 706.7,109.1 708.0,110.1 709.3,111.3 710.0,112.8 709.9,114.5 708.6,115.6 706.9,115.5 705.6,114.4 704.6,113.0 M680.6,89.1 682.3,88.7 683.9,88.3 685.6,88.6 686.6,90.0 686.7,91.7 686.8,93.4 686.3,95.0 684.6,95.5 683.0,95.9 681.3,96.1 679.6,96.0 678.4,94.9 678.5,93.2 678.7,91.5 678.8,89.8 679.2,88.1 M680.6,124.7 679.8,126.2 678.8,127.5 677.1,127.4 676.5,125.8 675.9,124.2 676.4,122.6 676.9,121.0 677.5,119.4 678.0,117.8 678.8,116.3 679.9,115.0 681.2,113.9 682.5,112.7 M713.9,101.2 715.0,99.9 716.5,99.0 718.1,99.5 719.1,100.9 719.3,102.6 718.6,104.1 717.3,105.2 716.0,106.3 714.3,106.5 712.6,106.2 711.6,104.8 712.3,103.2 713.4,101.9 715.0,101.4 716.5,102.2 M686.0,96.2 686.8,94.7 688.4,94.0 690.1,93.9 691.8,94.2 693.0,95.4 694.2,96.5 695.1,98.0 694.6,99.6 693.1,100.5 691.4,100.3 689.8,100.0 M686.1,118.2 685.6,116.5 686.1,114.9 687.7,114.4 689.1,115.4 690.2,116.8 691.5,117.8 691.5,119.5 690.1,120.5 688.7,121.5 687.2,122.4 685.7,123.1 684.1,122.6 683.7,120.9 683.4,119.3 M681.8,156.2 680.3,155.4 679.3,154.1 679.3,152.4 680.6,151.3 682.2,150.9 683.9,151.0 684.6,152.6 685.2,154.2 684.7,155.8 683.7,157.2 682.0,157.4 M669.0,169.5 667.8,170.7 666.3,171.5 664.9,172.4 663.6,173.6 661.9,173.1 660.9,171.7 660.9,170.0 661.8,168.6 M668.2,103.4 666.7,102.7 666.6,101.0 668.1,100.1 669.7,99.8 671.4,99.6 672.5,100.9 673.8,102.0 673.7,103.7 673.6,105.4 672.5,106.7 670.8,106.9 669.6,105.8 668.3,104.7 668.0,103.0 669.1,101.7 670.8,101.6 M705.3,137.0 706.0,135.5 707.7,135.1 709.4,135.0 711.1,135.4 712.7,135.9 714.0,137.0 715.2,138.2 716.7,139.1 717.1,140.7 717.3,142.4 717.3,144.1 717.0,145.8 716.0,147.1 714.6,148.1 712.9,148.1 M699.6,109.2 701.0,108.2 702.6,108.7 703.1,110.4 702.3,111.8 701.4,113.3 699.8,113.6 698.2,112.9 696.6,112.5 694.9,112.3 694.1,110.8 694.5,109.1 695.0,107.5 695.4,105.9 695.8,104.2 M675.3,149.3 674.3,150.6 672.8,151.5 671.1,151.7 669.7,150.8 669.1,149.2 670.2,148.0 671.2,146.6 672.9,146.6 674.3,147.5 675.0,149.1 M678.9,122.0 678.1,123.4 676.7,124.5 675.1,124.0 673.9,122.8 672.9,121.4 672.1,119.9 671.2,118.5 671.0,116.8 670.6,115.1 M688.6,88.0 686.9,88.1 685.5,87.2 685.0,85.6 684.5,83.9 684.5,82.2 685.5,80.9 687.0,80.1 688.6,79.6 690.3,79.8 691.8,80.6 691.8,82.3 690.8,83.6 689.6,84.9 688.2,85.9 686.5,85.8 M663.2,78.4 664.3,77.2 665.4,75.9 667.0,75.2 668.6,75.7 670.2,76.2 671.7,76.9 673.0,78.0 674.3,79.1 675.7,80.1 676.2,81.7 676.3,83.4 675.1,84.7 673.5,85.2 M714.0,101.6 712.5,102.3 710.9,101.7 709.5,100.7 709.3,99.1 709.7,97.4 710.7,96.1 712.0,94.9 713.6,94.4 714.8,95.6 715.1,97.3 714.0,98.6 712.6,99.6 M680.1,103.0 679.7,101.4 679.1,99.8 679.8,98.2 681.4,97.8 683.0,98.2 684.7,98.5 686.3,99.0 688.0,99.2 689.7,99.6 M714.5,133.0 715.2,131.5 716.6,130.6 718.3,130.6 719.7,131.6 720.0,133.3 719.5,134.9 718.0,135.7 716.5,136.5 714.8,136.1 713.4,135.2 713.1,133.5 712.7,131.8 712.4,130.2 711.8,128.6 712.5,127.1 714.2,126.8 M699.4,109.8 700.8,108.8 702.3,108.1 704.0,107.7 705.7,107.8 707.3,108.3 708.6,109.4 709.1,111.0 707.9,112.3 707.0,113.7 705.4,114.3 704.0,115.3 702.6,116.2 M708.2,129.8 709.6,128.8 711.3,128.9 712.6,129.9 712.4,131.6 711.2,132.8 709.9,133.9 708.2,133.9 706.8,133.0 705.3,132.2 704.2,130.9 704.6,129.3 705.9,128.2 707.5,127.6 709.0,126.8 710.7,127.1 M674.4,85.8 673.0,84.9 671.7,83.8 671.4,82.1 671.3,80.4 670.9,78.8 671.8,77.3 673.4,76.9 674.8,77.9 675.1,79.6 675.6,81.2 675.0,82.8 673.5,83.6 M688.3,164.4 687.1,165.7 686.2,167.1 685.5,168.7 684.1,169.5 682.4,169.0 680.8,168.6 679.3,167.9 678.6,166.3 M671.5,157.5 669.8,157.3 669.1,155.7 669.6,154.1 670.8,152.9 672.0,151.7 673.6,152.1 675.3,152.4 675.8,154.0 M671.3,151.8 670.3,150.5 670.5,148.8 671.5,147.4 672.8,146.3 674.0,145.1 675.6,145.4 676.6,146.8 676.2,148.4 675.4,150.0 674.0,150.8 672.5,149.9 672.3,148.2 673.0,146.7 674.1,145.3 675.5,144.4 M712.6,110.5 713.3,109.0 714.3,107.6 715.0,106.0 715.9,104.6 717.2,103.5 718.9,103.4 720.1,104.5 719.9,106.2 719.9,107.9 718.6,109.0 716.9,108.7 M711.4,129.5 710.2,130.6 708.5,130.2 707.0,129.4 705.5,128.7 704.5,127.3 704.8,125.6 705.3,124.0 706.7,123.1 708.2,123.9 709.7,124.8 710.3,126.4 709.8,128.0 708.8,129.4 707.6,130.6 706.3,131.7 704.6,131.5 M707.1,118.6 707.5,120.3 707.7,121.9 707.0,123.5 705.3,123.8 704.1,122.6 703.6,120.9 703.8,119.2 704.8,117.9 706.0,116.7 707.1,115.4 708.4,114.3 710.1,114.2 711.7,114.6 M694.2,113.0 692.5,112.7 691.9,111.1 692.1,109.4 693.6,108.5 695.2,108.0 696.9,108.3 698.6,108.3 700.2,108.8 701.9,108.9 703.6,109.4 M696.6,83.1 696.1,84.8 695.6,86.4 693.9,86.7 692.2,86.8 690.5,87.0 688.9,86.6 687.7,85.3 687.5,83.6 687.2,82.0 688.3,80.7 689.7,79.7 691.2,80.5 692.4,81.7 693.8,82.6 695.3,83.4 M683.1,142.4 681.9,141.2 681.8,139.5 683.1,138.4 684.8,138.5 686.5,138.4 688.2,138.7 689.8,139.2 691.5,139.5 692.1,141.1 M690.9,91.7 692.6,91.9 693.2,93.5 693.7,95.1 694.4,96.7 694.9,98.3 695.0,100.0 693.6,101.0 692.0,100.4 691.4,98.8 690.6,97.3 691.2,95.7 692.7,94.9 694.3,95.1 M670.3,147.2 671.9,147.5 673.4,148.4 674.0,150.0 673.9,151.7 673.3,153.3 672.3,154.7 671.0,155.7 669.4,156.3 667.7,156.3 666.6,155.0 667.1,153.3 668.7,152.8 M688.7,162.5 690.3,162.1 692.0,161.8 693.1,163.1 692.8,164.7 691.2,165.4 689.7,166.1 688.0,166.2 686.3,166.4 685.2,165.1 685.6,163.5 M697.8,117.9 696.4,118.8 694.7,118.8 693.0,118.7 691.3,118.6 689.6,118.6 688.3,117.5 687.7,115.9 687.1,114.3 688.1,112.9 689.2,111.6 690.7,110.8 M670.9,100.3 672.6,100.0 674.3,100.0 675.9,99.8 677.6,100.3 678.8,101.5 680.1,102.6 680.7,104.2 680.3,105.9 678.8,106.7 677.3,105.8 676.4,104.4 677.0,102.8 677.5,101.2 M686.6,99.4 686.9,101.0 686.8,102.7 685.4,103.7 684.1,104.8 682.4,104.7 680.7,104.3 680.3,102.7 679.5,101.1 680.2,99.6 681.2,98.2 682.2,96.8 M662.1,154.7 660.6,154.0 658.9,153.5 657.6,152.5 656.3,151.4 655.2,150.1 655.4,148.4 656.4,147.1 657.5,145.8 658.7,144.5 660.3,144.1 M703.7,147.8 703.4,149.5 702.2,150.7 700.5,150.4 699.2,149.4 697.9,148.2 696.6,147.2 696.3,145.5 696.5,143.8 697.8,142.8 699.0,141.5 M708.2,106.5 709.0,105.0 710.3,103.9 712.0,103.9 713.7,104.0 715.0,105.0 716.1,106.3 716.5,107.9 715.3,109.1 714.2,110.4 712.5,110.6 710.9,110.0 710.5,108.3 710.5,106.6 711.9,105.7 713.4,106.5 M666.1,108.6 664.9,109.8 663.2,109.6 661.9,108.5 662.0,106.8 662.5,105.2 662.8,103.5 664.2,102.5 665.8,102.1 667.4,101.4 668.9,102.2 670.5,102.9 671.9,103.7 673.5,104.5 M697.3,90.3 695.7,90.8 694.2,91.6 692.7,92.5 691.0,92.2 689.4,91.9 687.7,91.8 686.3,90.9 685.6,89.3 685.7,87.6 686.9,86.4 688.0,85.1 689.7,85.3 690.9,86.5 692.2,87.5 693.6,88.5 694.4,90.0 M690.5,101.1 690.3,102.8 689.3,104.2 688.1,105.4 686.8,106.5 685.2,106.6 683.6,106.1 682.2,105.0 682.4,103.4 682.3,101.7 683.2,100.2 684.8,99.7 686.5,100.2 687.6,101.5 688.9,102.6 M682.7,112.9 684.4,112.7 686.0,113.3 686.1,115.0 685.8,116.7 685.1,118.2 683.7,119.2 682.1,119.8 680.5,120.4 678.9,119.9 677.4,118.9 677.3,117.2 678.3,115.8 679.0,114.3 679.6,112.7 M672.7,105.5 673.1,107.1 672.8,108.8 672.1,110.3 670.4,110.4 668.8,109.8 667.2,109.4 666.7,107.8 667.9,106.6 M664.3,158.0 664.0,156.3 665.0,154.9 665.8,153.5 666.5,151.9 667.2,150.3 667.5,148.7 668.0,147.1 668.3,145.4 668.5,143.7 669.1,142.1 669.7,140.5 670.2,138.9 M687.1,123.6 688.8,123.3 690.5,123.3 691.7,124.5 691.8,126.1 691.6,127.8 690.8,129.3 689.3,130.0 687.6,130.4 685.9,130.4 684.5,129.5 683.3,128.3 683.6,126.6 684.3,125.1 685.5,123.9 M681.0,92.3 679.3,92.1 677.7,91.5 677.3,89.9 676.9,88.2 677.5,86.6 678.7,85.4 680.1,84.4 681.6,85.2 683.0,86.2 683.2,87.9 683.4,89.6 683.7,91.3 682.6,92.6 681.1,93.4 M665.5,111.6 663.8,111.5 663.2,109.9 663.7,108.3 665.3,107.8 667.0,108.0 668.3,109.1 669.5,110.2 670.7,111.5 671.0,113.1 M677.8,155.4 679.0,156.5 679.4,158.2 678.7,159.8 677.1,160.5 675.5,160.6 673.8,160.9 672.1,160.7 670.8,159.6 669.4,158.6 668.4,157.2 669.2,155.7 669.9,154.2 671.6,153.8 673.3,153.8 674.7,154.7 M668.3,156.6 669.0,155.0 669.9,153.6 671.2,152.5 672.8,152.2 674.5,152.4 676.1,152.9 676.8,154.5 676.0,156.0 674.6,157.0 673.0,157.4 671.3,157.8 669.6,157.8 M670.3,129.8 669.9,128.1 670.0,126.4 671.5,125.7 673.2,125.9 674.9,126.3 676.4,127.0 676.5,128.7 675.1,129.8 673.6,129.1 M663.5,98.9 665.1,99.5 665.8,101.0 665.6,102.7 664.1,103.4 662.4,103.2 660.9,102.3 660.4,100.7 660.3,99.0 660.7,97.4 662.0,96.2 663.4,95.4 664.9,96.3 M700.6,124.9 701.4,126.4 701.1,128.1 699.6,128.8 698.0,129.5 696.4,130.1 694.7,130.2 693.1,129.7 692.3,128.2 693.1,126.7 694.6,125.8 696.3,126.1 697.3,127.5 698.4,128.8 M682.7,109.6 683.7,110.9 684.8,112.2 684.3,113.9 682.9,114.8 681.3,114.4 680.9,112.7 682.0,111.5 683.5,110.7 685.0,109.9 686.7,109.4 688.3,109.7 689.7,110.6 M672.7,91.7 671.9,90.2 672.9,88.8 674.5,88.2 676.0,87.4 677.6,87.1 679.0,88.2 680.1,89.5 680.1,91.2 680.4,92.9 M679.4,155.7 677.9,154.7 677.1,153.3 677.1,151.6 677.3,149.9 678.5,148.7 680.1,148.2 681.3,149.4 681.7,151.0 M685.4,85.8 686.5,87.1 687.6,88.4 688.7,89.7 689.0,91.4 688.0,92.7 686.4,93.3 684.9,92.4 683.4,91.7 681.7,91.4 680.8,89.9 680.3,88.3 680.9,86.7 682.0,85.4 683.1,84.1 684.3,82.9 685.5,81.7 M713.5,130.5 711.9,131.0 710.4,131.9 708.9,132.6 707.2,132.8 705.9,131.7 704.4,130.8 702.9,130.2 701.4,129.3 700.0,128.4 698.6,127.4 697.9,125.8 697.3,124.2 696.4,122.8 697.0,121.2 698.2,120.0 M685.8,98.4 687.3,97.5 688.9,97.0 690.4,97.7 691.9,98.6 693.1,99.7 693.0,101.4 692.1,102.9 690.5,103.2 688.8,103.4 M671.9,108.8 672.0,110.5 671.7,112.1 671.0,113.7 669.4,114.0 667.7,114.0 666.3,113.0 666.6,111.3 667.4,109.8 669.1,109.6 670.6,110.3 671.9,111.5 672.6,113.0 M681.6,116.3 680.9,117.8 680.2,119.3 678.7,120.0 677.2,120.9 675.6,121.5 674.1,120.6 672.6,119.8 671.5,118.5 M671.1,108.2 671.8,106.7 673.2,105.8 674.8,105.1 676.5,105.2 678.2,105.4 679.1,106.8 678.9,108.5 677.3,109.2 676.0,108.1 675.5,106.5 675.6,104.8 677.1,104.1 678.8,104.2 680.4,104.8 M691.1,86.2 690.9,84.5 692.2,83.3 693.9,83.4 695.1,84.6 696.4,85.6 696.8,87.3 697.1,88.9 697.7,90.5 697.2,92.1 695.7,93.0 694.1,92.5 692.5,91.9 690.9,91.2 690.6,89.5 690.1,87.9 691.2,86.6 M707.9,147.6 708.6,149.1 709.1,150.7 708.1,152.2 706.8,153.2 705.2,153.9 703.7,153.0 702.7,151.7 702.6,150.0 703.5,148.6 705.2,148.4 706.2,149.8 707.2,151.2 M682.9,151.5 682.0,150.1 682.3,148.4 683.2,147.0 684.9,147.2 686.5,147.9 686.8,149.5 687.2,151.2 687.3,152.9 687.1,154.6 686.0,155.9 684.9,157.1 683.2,157.3 681.5,157.0 680.3,155.8 M686.6,147.4 686.7,149.1 685.8,150.6 684.1,150.6 682.6,149.7 681.3,148.7 680.4,147.2 680.4,145.5 681.8,144.6 M700.2,129.8 701.7,130.6 702.2,132.2 702.4,133.9 702.8,135.5 701.8,136.9 700.2,137.4 698.6,138.2 697.0,138.8 695.5,139.5 M707.1,94.4 708.8,94.0 710.2,95.0 710.0,96.7 709.0,98.0 707.8,99.2 706.1,99.7 704.4,99.8 703.5,98.3 703.1,96.7 M681.4,122.8 681.5,121.1 682.7,119.9 683.9,118.7 685.6,118.6 686.8,119.8 686.7,121.5 685.8,123.0 685.0,124.5 683.3,124.4 682.2,123.1 681.9,121.4 681.7,119.7 681.5,118.1 682.6,116.8 683.8,115.6 M676.8,167.5 677.1,169.1 677.3,170.8 677.2,172.5 677.1,174.2 675.9,175.4 674.2,175.6 672.5,175.6 670.8,175.5 669.4,174.5 668.4,173.1 669.1,171.6 670.1,170.2 671.4,169.1 M694.1,106.4 695.3,105.1 696.9,105.5 698.0,106.8 699.1,108.1 698.4,109.7 696.8,110.2 695.1,110.1 693.4,109.9 692.2,108.7 690.8,107.7 690.0,106.2 689.0,104.8 689.5,103.2 690.3,101.7 691.1,100.2 692.1,98.9 M687.4,129.2 687.1,130.9 687.2,132.6 685.7,133.4 684.1,133.0 682.4,132.8 681.3,131.4 682.0,129.9 683.4,128.8 684.7,127.7 686.3,127.3 688.0,127.5 689.7,127.7 691.0,128.7 692.5,129.5 692.7,131.2 691.9,132.7 M699.2,98.4 698.0,99.6 697.1,101.1 695.8,102.1 694.5,103.2 692.9,103.9 691.6,102.9 690.8,101.3 691.7,99.9 693.2,99.3 694.8,98.5 M703.0,104.1 701.8,102.9 701.9,101.2 702.4,99.6 703.3,98.2 704.8,97.4 706.5,97.0 707.8,98.1 709.0,99.3 710.3,100.3 711.0,101.9 710.6,103.5 709.1,104.3 707.5,103.9 706.9,102.3 M715.9,122.0 715.1,120.4 715.2,118.8 716.4,117.5 717.5,116.2 718.7,115.0 719.9,113.8 721.5,113.5 723.2,113.8 723.8,115.4 722.9,116.8 M689.3,95.2 687.6,95.0 686.7,93.6 687.1,91.9 688.1,90.5 689.3,89.3 691.0,89.1 692.6,89.7 693.9,90.7 M681.3,116.6 682.0,115.0 682.8,113.5 683.8,112.1 685.3,111.2 687.0,111.2 688.6,111.6 690.2,112.1 691.9,112.4 693.5,113.1 694.6,114.4 M716.8,134.1 718.4,133.4 720.0,133.0 721.6,133.7 722.5,135.1 722.9,136.8 722.9,138.5 721.8,139.8 720.8,141.2 M711.3,125.4 710.3,124.1 710.5,122.4 711.7,121.2 713.0,120.1 714.6,119.7 716.3,120.2 716.6,121.9 716.6,123.6 716.3,125.3 715.5,126.7 714.4,128.1 M675.0,167.9 675.3,169.6 674.2,170.9 672.6,171.3 670.9,171.7 669.4,170.9 668.8,169.3 668.3,167.7 668.5,166.0 669.5,164.6 M701.7,145.4 703.3,145.9 704.2,147.4 703.7,149.0 703.3,150.6 702.2,151.9 700.6,152.6 699.1,151.8 699.0,150.1 700.0,148.6 M716.7,124.0 715.1,123.5 714.7,121.9 714.3,120.2 714.7,118.6 714.9,116.9 715.6,115.3 717.0,114.4 718.7,114.1 720.3,113.5 721.7,112.6 723.4,113.0 724.0,114.6 723.8,116.3 723.8,118.0 M669.7,162.1 670.5,163.6 669.7,165.1 668.0,165.3 666.3,165.5 665.0,164.5 663.9,163.2 664.1,161.5 665.3,160.3 667.0,160.5 668.7,160.6 670.3,161.2 M696.4,83.7 694.7,83.4 694.0,81.9 693.5,80.3 693.4,78.6 694.4,77.2 695.2,75.7 696.9,75.7 698.4,76.2 699.1,77.8 M689.8,81.2 688.9,82.6 687.7,83.8 686.1,84.0 684.4,83.8 682.7,83.5 681.9,82.0 682.0,80.3 683.1,79.0 684.8,79.0 685.6,80.5 M662.8,107.2 663.1,108.9 663.7,110.5 662.8,111.9 662.1,113.5 660.7,114.3 659.0,114.2 657.6,113.1 657.7,111.4 659.2,110.6 660.8,110.9 662.2,111.8 663.6,112.9 663.3,114.6 662.3,116.0 661.0,117.0 659.3,117.3 M679.7,86.7 678.6,85.5 677.7,84.0 677.6,82.3 678.3,80.8 679.5,79.5 681.0,78.7 682.2,77.5 683.9,77.2 685.6,77.3 687.3,77.1 688.9,77.5 M670.3,139.1 670.3,140.8 668.7,141.5 667.1,141.9 665.5,141.3 664.4,139.9 663.4,138.6 663.4,136.9 664.9,136.0 666.4,136.7 668.0,137.3 669.6,138.0 670.8,139.1 " stroke="#2c2c2c" stroke-width="0.38" fill="none" opacity="0.7"/>
<path d="M665.9,116.6 L665.7,118.6 L664.8,120.4 L664.5,122.4 L663.5,124.1 L663.4,126.1 L664.2,127.9 L664.0,129.9 L664.1,131.9 L664.6,133.8 L664.3,135.8 L664.5,137.8 L663.9,139.7 L662.8,141.4 L662.0,143.2 L660.8,144.8 L659.4,146.2 M668.9,111.3 L667.8,112.9 L666.1,114.0 L665.0,115.7 L664.5,117.6 L663.2,119.2 L661.7,120.4 L660.3,121.8 L659.0,123.4 L657.4,124.5 L655.7,125.6 L654.0,126.7 L654.0,128.4 L654.0,129.7 L654.0,131.4 L654.0,133.0 L654.0,134.4 M661.5,147.3 L662.7,149.0 L662.9,150.9 L662.9,152.9 L663.4,154.9 L664.3,156.7 L665.2,158.5 L665.0,160.5 L664.3,162.4 L663.2,164.0 L661.5,165.1 L659.8,166.2 L658.4,167.6 L657.7,169.5 L656.1,170.7 L654.5,171.9 L654.0,173.0 M663.5,73.6 L664.1,75.5 L663.8,77.4 L664.1,79.4 L664.3,81.4 L665.5,83.1 L667.0,84.3 L668.7,85.4 L670.4,86.4 L672.1,87.5 L673.8,88.6 L674.9,90.2 L675.9,92.0 L676.5,93.9 L678.0,95.2 L678.0,96.3 L678.0,97.6 M663.4,73.2 L664.7,74.7 L666.2,76.0 L667.1,77.8 L668.8,78.9 L670.5,80.0 L672.0,81.3 L673.0,83.0 L674.5,84.2 L675.4,86.0 L675.6,88.0 L676.8,89.7 L677.7,91.5 L677.9,93.4 L677.1,95.2 L676.4,97.1 L674.9,98.4 M665.5,96.7 L665.7,98.7 L666.2,100.6 L666.2,102.6 L665.3,104.5 L665.3,106.5 L666.4,108.2 L668.0,109.4 L669.5,110.6 L670.4,112.4 L671.6,114.0 L673.1,115.4 L674.8,116.5 L676.2,117.9 L676.8,119.8 L678.0,121.3 L678.0,123.2 M664.5,116.8 L664.5,118.8 L663.9,120.7 L663.2,122.6 L663.7,124.6 L663.8,126.6 L663.5,128.5 L663.2,130.5 L662.3,132.3 L661.3,134.1 L660.7,136.0 L660.0,137.8 L659.7,139.8 L660.1,141.8 L660.4,143.8 L661.5,145.4 L662.0,147.3 M666.7,121.1 L665.7,122.8 L664.0,123.9 L662.3,125.0 L661.3,126.7 L660.2,128.3 L659.7,130.3 L658.6,131.9 L658.0,133.9 L657.2,135.7 L655.9,137.2 L654.3,138.3 L654.0,139.4 L654.0,140.5 L654.0,141.5 L654.0,142.6 L654.0,144.0 M664.8,127.4 L664.0,129.2 L663.9,131.2 L662.8,132.9 L661.2,134.0 L659.6,135.3 L658.6,137.0 L657.1,138.3 L656.5,140.2 L655.6,142.0 L655.7,144.0 L655.2,145.9 L654.0,147.3 L654.0,148.4 L654.0,149.8 L654.0,151.6 L654.0,153.5 M667.4,123.2 L668.1,125.1 L669.7,126.3 L670.9,127.9 L672.6,129.0 L674.3,130.1 L676.0,131.2 L677.7,132.3 L678.0,133.3 L678.0,135.1 L678.0,136.8 L677.9,138.8 L677.2,140.6 L676.5,142.5 L675.0,143.8 L673.3,144.9 L671.6,145.9 M663.4,82.6 L664.5,84.3 L666.2,85.4 L667.3,87.1 L668.8,88.4 L670.5,89.5 L672.0,90.8 L672.6,92.7 L673.9,94.2 L675.5,95.3 L676.8,96.9 L677.2,98.8 L677.2,100.8 L678.0,102.6 L678.0,104.5 L678.0,106.5 L678.0,108.4 M669.5,125.4 L670.0,127.4 L669.4,129.3 L669.8,131.3 L670.6,133.1 L671.4,134.9 L672.5,136.6 L673.1,138.5 L673.7,140.4 L674.6,142.2 L675.7,143.9 L676.4,145.8 L676.8,147.7 L677.4,149.6 L678.0,151.4 L678.0,153.4 L677.9,155.4 M670.4,87.7 L671.4,89.5 L673.0,90.6 L674.5,92.0 L675.8,93.5 L676.8,95.2 L677.2,97.2 L678.0,98.6 L678.0,100.5 L678.0,101.9 L678.0,103.0 L678.0,104.8 L677.8,106.7 L677.5,108.7 L678.0,110.5 L678.0,111.9 L678.0,113.4 M662.5,149.5 L661.7,151.3 L660.0,152.4 L659.1,154.2 L657.4,155.3 L655.7,156.4 L654.0,157.5 L654.0,159.0 L654.0,161.0 L654.0,162.8 L654.4,164.8 L655.2,166.6 L655.0,168.6 L655.6,170.5 L657.0,171.9 L657.9,173.7 L657.7,175.7 M662.2,92.8 L663.4,94.4 L664.7,95.9 L666.4,97.1 L668.1,98.2 L669.7,99.2 L670.5,101.1 L670.8,103.1 L671.5,104.9 L672.5,106.7 L673.3,108.5 L674.4,110.2 L676.1,111.2 L677.3,112.8 L677.8,114.8 L677.5,116.7 L676.3,118.4 M663.5,111.1 L662.5,112.8 L661.1,114.2 L659.4,115.3 L657.7,116.4 L656.0,117.4 L655.1,119.2 L654.0,120.8 L654.0,122.8 L654.0,124.7 L654.0,126.6 L654.0,128.5 L654.0,130.2 L654.0,132.0 L654.0,133.6 L654.0,135.3 L654.0,136.8 " stroke="#1e1e1e" stroke-width="0.6" fill="none" opacity="0.85"/>
</g>
<text x="600.2" y="132.2" font-size="20.8" font-weight="bold" font-style="normal" fill="#c00000" text-anchor="start" textLength="63.3" lengthAdjust="spacingAndGlyphs" stroke="#ffffff" stroke-opacity="0.45" stroke-width="1.6" paint-order="stroke">Stroke</text>
<text x="14.8" y="27.3" font-size="20.5" font-weight="bold" font-style="normal" fill="#000" text-anchor="start" >a</text>
<text x="32.7" y="46.3" font-size="12" font-weight="bold" font-style="normal" fill="#000" text-anchor="start" textLength="54.6" lengthAdjust="spacingAndGlyphs" >CTA scan</text>
<text x="24.8" y="152.9" font-size="13.2" font-weight="bold" font-style="normal" fill="#000" text-anchor="start" textLength="50.2" lengthAdjust="spacingAndGlyphs" >Patients</text>
<g stroke="#111" stroke-width="1.35" fill="none" stroke-linejoin="round">
<circle cx="33.3" cy="74.3" r="4.8"/>
<path d="M29,82 L25,82 C22.8,82 21.8,83.6 21.7,86 L20.9,105.5 L24.8,105.5 L25.3,91.5 L25.3,130.4 L32.6,130.4 L32.6,106 L34,106 L34,130.4 L41.3,130.4 L41.3,91.5 L41.8,105.5 L45.7,105.5 L44.9,86 C44.8,83.6 43.8,82 41.6,82 Z"/>
<circle cx="63.9" cy="74.3" r="4.8"/>
<path d="M60,82 L56.5,82 C54.6,82 53.8,83.6 53.6,86 L52.4,104 L55.4,104 L56.6,91.5 L53.6,110.6 L59.1,110.6 L59.1,130.4 L63.2,130.4 L63.2,110.6 L64.6,110.6 L64.6,130.4 L68.7,130.4 L68.7,110.6 L74.3,110.6 L71.2,91.5 L72.4,104 L75.4,104 L74.2,86 C74,83.6 73.2,82 71.3,82 Z"/>
</g>
<g stroke="#111" fill="#fff" stroke-linejoin="round">
<path d="M76,117 L72,134 L128,153 L205,153 L203,143 L142,129 Z" fill="none" stroke="#777" stroke-width="0.6"/>
<path d="M131,134 L200.3,142 L163,151.3" fill="none" stroke="#777" stroke-width="0.6"/>
<path d="M80.5,108 L80.5,127 L99,135 L137,135 L137,115 Z" stroke-width="1"/>
<path d="M99,112 L99,134.5 M80.5,127 L99,127" stroke-width="0.6" fill="none"/>
<circle cx="128" cy="86" r="52" stroke-width="1.5"/>
<path d="M79,100 C73,80 80,55 100,42 C110,36 120,35.5 128,35.5" stroke-width="0.8" fill="none"/>
<path d="M80.5,90 C81.5,101 86,110 94.5,117.5" stroke-width="3.2" fill="none"/>
<path d="M84,60 C79,72 79,84 81,92" stroke="#777" stroke-width="1.6" fill="none"/>
<ellipse cx="137" cy="84" rx="42" ry="45.5" stroke-width="1.4"/>
<ellipse cx="139" cy="82" rx="34" ry="36" fill="none" stroke-width="0.6" stroke="#333"/>
<ellipse cx="137" cy="84" rx="39.5" ry="43" fill="none" stroke-width="0.5" stroke="#555"/>
<path d="M105,85.8 L114.5,85.8 M159.5,82 L173,82" stroke-width="0.6" fill="none"/>
<ellipse cx="134" cy="80" rx="14" ry="17.5" stroke-width="1.3"/>
<path d="M130.5,62.6 A12.8,17.4 0 0 1 130.5,97.4" fill="none" stroke-width="0.9"/>
<path d="M132.5,62.6 A12.8,17.4 0 0 1 132.5,97.4" fill="none" stroke-width="0.9"/>
<path d="M134.5,62.6 A12.8,17.4 0 0 1 134.5,97.4" fill="none" stroke-width="0.9"/>
<path d="M136.5,62.6 A12.8,17.4 0 0 1 136.5,97.4" fill="none" stroke-width="0.9"/>
<ellipse cx="127.2" cy="80" rx="12.6" ry="17" stroke-width="1.2"/>
<ellipse cx="155.5" cy="82" rx="3.8" ry="1.7" stroke-width="0.9"/>
<path d="M136,48 l10.5,0 l-2,3.6 l-6.5,0 z" fill="#666" stroke-width="0.7"/>
<path d="M138.5,56.5 l5,0" stroke-width="1"/>
<rect x="98.8" y="71.7" width="4.2" height="10.5" rx="1" fill="#fff" stroke-width="1"/>
<circle cx="100.8" cy="87.5" r="1.4" fill="#fff" stroke-width="0.8"/>
<rect x="172.8" y="68.8" width="3.6" height="9.5" rx="1" fill="#fff" stroke-width="1"/>
<circle cx="174.6" cy="82.3" r="1.3" fill="#fff" stroke-width="0.8"/>
<path d="M135,116.7 L190,129 L191,143.5 L135,134 Z" stroke-width="1"/>
<path d="M135.5,121 L190.5,133 M135.5,125 L190.5,137 M135.5,129 L190.5,140.5" stroke-width="0.6" fill="none"/>
<path d="M135,134 L191,143.5 L191,146 L135,136.5 Z" fill="#111" stroke-width="0.5"/>
<path d="M120.3,99.3 L195,111.3 L204,113 C210,114.5 210.5,120.5 206,122.5 L195,126 L175,120.7 L121.7,104.7 Z" stroke-width="1.2"/>
<path d="M121.7,104.7 L175,120.7 L195,126 L206,122.5 L206,126 L195,130 L175,124.5 L122.5,108.5 Z" fill="#f0f0f0" stroke-width="1"/>
<path d="M124,107 L193,128" stroke-width="1.1" fill="none" stroke-dasharray="1 0.7"/>
<path d="M123,102 L196,115" stroke-width="0.5" fill="none"/>
<path d="M180,116.5 L200,119.5" stroke-width="0.6" fill="none"/>
</g>
<path d="M185.7,87 C191,71 200,64 213.7,63 L213.7,54.6 L230,68.5 L213.7,83 L213.7,74.5 C203,74.5 192,79 185.7,87 Z" fill="#fff" stroke="#d9262c" stroke-width="1.5" stroke-linejoin="miter"/>
<rect x="1" y="198" width="748" height="35.7" fill="#e2efda"/>
<rect x="1" y="233.7" width="747" height="268.3" fill="#f2f2f2"/>
<path d="M177.2,156.8 C186,164 190,174 190.1,184.9 L182.4,184.9 L196.3,200.6 L210.1,184.9 L201.1,184.9 C200,170 191,160 177.2,156.8 Z" fill="#fff" stroke="#70ad47" stroke-width="1.5"/>
<text x="13.9" y="224.7" font-size="20.5" font-weight="bold" font-style="normal" fill="#000" text-anchor="start" >b</text>
<text x="305.6" y="223.5" font-size="21.8" font-weight="bold" font-style="normal" fill="#1f4e79" text-anchor="start" textLength="45.5" lengthAdjust="spacingAndGlyphs" >New</text>
<text x="362.2" y="223.5" font-size="21.8" font-weight="bold" font-style="normal" fill="#1f4e79" text-anchor="start" textLength="84" lengthAdjust="spacingAndGlyphs" >Strategy</text>
<rect x="13.9" y="244.4" width="290.9" height="140.6" rx="7" fill="none" stroke="#4a7db8" stroke-width="1.3" stroke-dasharray="4.5 3"/>
<text x="31" y="262.5" font-size="13.9" font-weight="bold" font-style="normal" fill="#000" text-anchor="start" textLength="104.5" lengthAdjust="spacingAndGlyphs" >Patient-specific</text>
<text x="140.5" y="262.8" font-size="14.8" font-weight="normal" font-style="normal" fill="#1a1a1a" text-anchor="start" textLength="155.8" lengthAdjust="spacingAndGlyphs" >carotid artery 3D recon</text>
<path d="M57.8,327.5 C46,322 38,308 38,293 C38,276 50,267.5 66,267.5 C84,267.5 95,276 97,286 C99,293 101,296 102,298 C106,306 111,314 113.4,319 C112,322 109,323 107,324 C107,329 107,333 105.5,335.5 C101,338.5 95,339 91.6,339.5 L89.6,353.4 C80,357.5 66,357.5 59.8,353.4 Z" fill="url(#gHead)" stroke="#c6c6c6" stroke-width="0.8"/>
<path d="M57.8,327.5 C60,335 60,345 59.8,353.4 C66,357.5 80,357.5 89.6,353.4 L91.6,339.5 C85,338 80,334 76,330 C70,330 63,329 57.8,327.5 Z" fill="url(#gNeck)" opacity="0.55"/>
<ellipse cx="74.7" cy="354.8" rx="14.6" ry="2.8" fill="#b0b0b0"/>
<path d="M79,306 C84,303 88,307 87,313 C86,318 82,320 80,317 Z" fill="#e6e6e6" stroke="#cfcfcf" stroke-width="0.5"/>
<path d="M64.8,304.7 C68,312 72,318 75,324 C77.7,329.5 80,336 80.5,342 C81,346 81.6,349 81.6,352 M71,307 C74,316 78,322 80,328 M87.6,317.6 C85,322 82,326 79,330 M96,313 C93,317 90,319 87.6,317.6 M74,331 C72,338 72,345 73,352" stroke="#d24646" stroke-width="0.75" fill="none"/>
<circle cx="80.6" cy="334.3" r="8.8" fill="none" stroke="#111" stroke-width="0.75" stroke-dasharray="2 1.4"/>
<path d="M85.7,326.7 L104.8,307.6 M88,339.8 L112,350.5" stroke="#111" stroke-width="0.75" stroke-dasharray="2 1.4"/>
<text x="80.4" y="292.2" font-size="11.8" font-weight="bold" font-style="normal" fill="#b7232b" text-anchor="start" textLength="65.4" lengthAdjust="spacingAndGlyphs" >Thrombotic</text>
<text x="101.6" y="308.6" font-size="11.8" font-weight="bold" font-style="normal" fill="#b7232b" text-anchor="start" textLength="22.4" lengthAdjust="spacingAndGlyphs" >side</text>
<text x="114.6" y="344.8" font-size="12" font-weight="bold" font-style="normal" fill="#4472c4" text-anchor="start" textLength="43.2" lengthAdjust="spacingAndGlyphs" >Healthy</text>
<text x="124.8" y="361.2" font-size="12" font-weight="bold" font-style="normal" fill="#4472c4" text-anchor="start" textLength="22.2" lengthAdjust="spacingAndGlyphs" >side</text>
<text x="101.3" y="373.9" font-size="13.6" font-weight="normal" font-style="normal" fill="#1a1a1a" text-anchor="start" textLength="43.1" lengthAdjust="spacingAndGlyphs" >Patient</text>
<text x="155.8" y="373.9" font-size="13.6" font-weight="normal" font-style="normal" fill="#1a1a1a" text-anchor="start" textLength="31.7" lengthAdjust="spacingAndGlyphs" >#1-H,</text>
<text x="202.7" y="373.9" font-size="13.6" font-weight="normal" font-style="normal" fill="#1a1a1a" text-anchor="start" textLength="32.9" lengthAdjust="spacingAndGlyphs" >#2-G,</text>
<text x="246.5" y="373.9" font-size="13.6" font-weight="normal" font-style="normal" fill="#1a1a1a" text-anchor="start" textLength="31.4" lengthAdjust="spacingAndGlyphs" >#3-B,</text>
<path d="M157.2,325 L157,297 M157,299 L155.5,292 C154,287 152,283 151.8,281" stroke="#c83a30" stroke-width="10.5" fill="none" stroke-linecap="round" stroke-linejoin="round" />
<path d="M157.2,325 L157,297 M157,299 L155.5,292 C154,287 152,283 151.8,281" stroke="#e5503f" stroke-width="8.3" fill="none" stroke-linecap="round" stroke-linejoin="round" transform="translate(-0.6,-0.3)"/>
<path d="M157.2,325 L157,297 M157,299 L155.5,292 C154,287 152,283 151.8,281" stroke="#f07a66" stroke-width="4.5" fill="none" stroke-linecap="round" stroke-linejoin="round" transform="translate(-1.4,-0.6)" opacity="0.7"/>
<path d="M157.5,297 C161,294 164,290 165,284 C166,279 163,274 160.8,271" stroke="#c83a30" stroke-width="7" fill="none" stroke-linecap="round" stroke-linejoin="round" />
<path d="M157.5,297 C161,294 164,290 165,284 C166,279 163,274 160.8,271" stroke="#e5503f" stroke-width="4.8" fill="none" stroke-linecap="round" stroke-linejoin="round" transform="translate(-0.6,-0.3)"/>
<path d="M157.5,297 C161,294 164,290 165,284 C166,279 163,274 160.8,271" stroke="#f07a66" stroke-width="1.2" fill="none" stroke-linecap="round" stroke-linejoin="round" transform="translate(-1.4,-0.6)" opacity="0.7"/>
<path d="M204.3,324 L203,306 C199,302 192,298 188,292 C186.5,288 188,283 190.5,280" stroke="#c83a30" stroke-width="10" fill="none" stroke-linecap="round" stroke-linejoin="round" />
<path d="M204.3,324 L203,306 C199,302 192,298 188,292 C186.5,288 188,283 190.5,280" stroke="#e5503f" stroke-width="7.8" fill="none" stroke-linecap="round" stroke-linejoin="round" transform="translate(-0.6,-0.3)"/>
<path d="M204.3,324 L203,306 C199,302 192,298 188,292 C186.5,288 188,283 190.5,280" stroke="#f07a66" stroke-width="4" fill="none" stroke-linecap="round" stroke-linejoin="round" transform="translate(-1.4,-0.6)" opacity="0.7"/>
<path d="M203,306 C206,300 208.5,294 209,280" stroke="#c83a30" stroke-width="7" fill="none" stroke-linecap="round" stroke-linejoin="round" />
<path d="M203,306 C206,300 208.5,294 209,280" stroke="#e5503f" stroke-width="4.8" fill="none" stroke-linecap="round" stroke-linejoin="round" transform="translate(-0.6,-0.3)"/>
<path d="M203,306 C206,300 208.5,294 209,280" stroke="#f07a66" stroke-width="1.2" fill="none" stroke-linecap="round" stroke-linejoin="round" transform="translate(-1.4,-0.6)" opacity="0.7"/>
<path d="M248,319 L247.5,303 C244,299 240,296 237,292 C235,289 233,285 233,281" stroke="#c83a30" stroke-width="10" fill="none" stroke-linecap="round" stroke-linejoin="round" />
<path d="M248,319 L247.5,303 C244,299 240,296 237,292 C235,289 233,285 233,281" stroke="#e5503f" stroke-width="7.8" fill="none" stroke-linecap="round" stroke-linejoin="round" transform="translate(-0.6,-0.3)"/>
<path d="M248,319 L247.5,303 C244,299 240,296 237,292 C235,289 233,285 233,281" stroke="#f07a66" stroke-width="4" fill="none" stroke-linecap="round" stroke-linejoin="round" transform="translate(-1.4,-0.6)" opacity="0.7"/>
<path d="M247.5,302 C249.5,298 251,293 252,283" stroke="#c83a30" stroke-width="7.5" fill="none" stroke-linecap="round" stroke-linejoin="round" />
<path d="M247.5,302 C249.5,298 251,293 252,283" stroke="#e5503f" stroke-width="5.3" fill="none" stroke-linecap="round" stroke-linejoin="round" transform="translate(-0.6,-0.3)"/>
<path d="M247.5,302 C249.5,298 251,293 252,283" stroke="#f07a66" stroke-width="1.5" fill="none" stroke-linecap="round" stroke-linejoin="round" transform="translate(-1.4,-0.6)" opacity="0.7"/>
<path d="M177.5,357 L177.5,335 L173.5,326 L169.5,319" stroke="#3e4fc4" stroke-width="10" fill="none" stroke-linecap="round" stroke-linejoin="round" />
<path d="M177.5,357 L177.5,335 L173.5,326 L169.5,319" stroke="#5168e2" stroke-width="7.8" fill="none" stroke-linecap="round" stroke-linejoin="round" transform="translate(-0.6,-0.3)"/>
<path d="M177.5,357 L177.5,335 L173.5,326 L169.5,319" stroke="#7d8ff0" stroke-width="4" fill="none" stroke-linecap="round" stroke-linejoin="round" transform="translate(-1.4,-0.6)" opacity="0.7"/>
<path d="M177.5,336 L178.8,317" stroke="#3e4fc4" stroke-width="8" fill="none" stroke-linecap="round" stroke-linejoin="round" />
<path d="M177.5,336 L178.8,317" stroke="#5168e2" stroke-width="5.8" fill="none" stroke-linecap="round" stroke-linejoin="round" transform="translate(-0.6,-0.3)"/>
<path d="M177.5,336 L178.8,317" stroke="#7d8ff0" stroke-width="2" fill="none" stroke-linecap="round" stroke-linejoin="round" transform="translate(-1.4,-0.6)" opacity="0.7"/>
<path d="M223,356 L223.2,333 L218.5,324 L214.5,317" stroke="#3e4fc4" stroke-width="8" fill="none" stroke-linecap="round" stroke-linejoin="round" />
<path d="M223,356 L223.2,333 L218.5,324 L214.5,317" stroke="#5168e2" stroke-width="5.8" fill="none" stroke-linecap="round" stroke-linejoin="round" transform="translate(-0.6,-0.3)"/>
<path d="M223,356 L223.2,333 L218.5,324 L214.5,317" stroke="#7d8ff0" stroke-width="2" fill="none" stroke-linecap="round" stroke-linejoin="round" transform="translate(-1.4,-0.6)" opacity="0.7"/>
<path d="M223.2,334 C225,328 227.5,320 228.8,314" stroke="#3e4fc4" stroke-width="6" fill="none" stroke-linecap="round" stroke-linejoin="round" />
<path d="M223.2,334 C225,328 227.5,320 228.8,314" stroke="#5168e2" stroke-width="3.8" fill="none" stroke-linecap="round" stroke-linejoin="round" transform="translate(-0.6,-0.3)"/>
<path d="M223.2,334 C225,328 227.5,320 228.8,314" stroke="#7d8ff0" stroke-width="1.2" fill="none" stroke-linecap="round" stroke-linejoin="round" transform="translate(-1.4,-0.6)" opacity="0.7"/>
<path d="M266.5,354.5 L266,331 L262.5,324 L260.8,319" stroke="#3e4fc4" stroke-width="8" fill="none" stroke-linecap="round" stroke-linejoin="round" />
<path d="M266.5,354.5 L266,331 L262.5,324 L260.8,319" stroke="#5168e2" stroke-width="5.8" fill="none" stroke-linecap="round" stroke-linejoin="round" transform="translate(-0.6,-0.3)"/>
<path d="M266.5,354.5 L266,331 L262.5,324 L260.8,319" stroke="#7d8ff0" stroke-width="2" fill="none" stroke-linecap="round" stroke-linejoin="round" transform="translate(-1.4,-0.6)" opacity="0.7"/>
<path d="M266,332 C270,330 275,328 276.5,322 C278,317 276,314 272,314.5" stroke="#3e4fc4" stroke-width="6" fill="none" stroke-linecap="round" stroke-linejoin="round" />
<path d="M266,332 C270,330 275,328 276.5,322 C278,317 276,314 272,314.5" stroke="#5168e2" stroke-width="3.8" fill="none" stroke-linecap="round" stroke-linejoin="round" transform="translate(-0.6,-0.3)"/>
<path d="M266,332 C270,330 275,328 276.5,322 C278,317 276,314 272,314.5" stroke="#7d8ff0" stroke-width="1.2" fill="none" stroke-linecap="round" stroke-linejoin="round" transform="translate(-1.4,-0.6)" opacity="0.7"/>
<path d="M97.2,386.4 L112.9,396.4 L128.7,386.4 L128.7,392.0 L112.9,402.0 L97.2,392.0 Z" fill="none" stroke="#70ad47" stroke-width="1.2"/>
<path d="M97.2,397.09999999999997 L112.9,407.09999999999997 L128.7,397.09999999999997 L128.7,402.7 L112.9,412.7 L97.2,402.7 Z" fill="none" stroke="#70ad47" stroke-width="1.2"/>
<path d="M97.2,407.79999999999995 L112.9,417.79999999999995 L128.7,407.79999999999995 L128.7,413.4 L112.9,423.4 L97.2,413.4 Z" fill="none" stroke="#70ad47" stroke-width="1.2"/>
<rect x="13.6" y="402.8" width="289.7" height="95" rx="9" fill="none" stroke="#7c97b8" stroke-width="1" stroke-dasharray="3.5 2.5"/>
<text x="136.1" y="421" font-size="11" font-weight="normal" font-style="normal" fill="#262626" text-anchor="start" textLength="116.1" lengthAdjust="spacingAndGlyphs" >Carotid artery geometry</text>
<text x="136.6" y="434.3" font-size="11" font-weight="normal" font-style="normal" fill="#262626" text-anchor="start" textLength="109.2" lengthAdjust="spacingAndGlyphs" >printed on a glass slide</text>
<text x="153.3" y="489.7" font-size="10.6" font-weight="bold" font-style="normal" fill="#111" text-anchor="start" textLength="75.2" lengthAdjust="spacingAndGlyphs" >Patient-specific</text>
<text x="231.3" y="489.7" font-size="10.6" font-weight="normal" font-style="normal" fill="#333" text-anchor="start" textLength="53.4" lengthAdjust="spacingAndGlyphs" >3D Printing</text>
<path d="M109.3,459.1 L248,434.3 L257.3,443.7 L140,481.5 Z" fill="#e6e6e6" />
<path d="M140,481.5 L257.3,443.7 L257.3,445 L140.5,483 Z" fill="#cdcdcd" />
<path d="M109.3,459.1 L140,481.5 L140.5,483 L109.3,460.5 Z" fill="#d4d4d4" />
<path d="M124,455.7 L134.215,464.07 L146.7,474.3" stroke="#c9a818" stroke-width="2.6" fill="none" stroke-linecap="round"/>
<path d="M124,455.7 L134.215,464.07 L146.7,474.3" stroke="#f2dc5a" stroke-width="1.4" fill="none" stroke-linecap="round"/>
<path d="M134.215,464.07 L139.215,465.57" stroke="#d8bc30" stroke-width="1.4" fill="none" stroke-linecap="round"/>
<path d="M150.7,448.5 L160.285,456.51 L172,466.3" stroke="#c9a818" stroke-width="2.6" fill="none" stroke-linecap="round"/>
<path d="M150.7,448.5 L160.285,456.51 L172,466.3" stroke="#f2dc5a" stroke-width="1.4" fill="none" stroke-linecap="round"/>
<path d="M160.285,456.51 L165.285,458.01" stroke="#d8bc30" stroke-width="1.4" fill="none" stroke-linecap="round"/>
<path d="M176,441 L185.585,448.785 L197.3,458.3" stroke="#c9a818" stroke-width="2.6" fill="none" stroke-linecap="round"/>
<path d="M176,441 L185.585,448.785 L197.3,458.3" stroke="#f2dc5a" stroke-width="1.4" fill="none" stroke-linecap="round"/>
<path d="M185.585,448.785 L190.585,450.285" stroke="#d8bc30" stroke-width="1.4" fill="none" stroke-linecap="round"/>
<path d="M202.7,435.7 L211.07,442.27 L221.3,450.3" stroke="#c9a818" stroke-width="2.6" fill="none" stroke-linecap="round"/>
<path d="M202.7,435.7 L211.07,442.27 L221.3,450.3" stroke="#f2dc5a" stroke-width="1.4" fill="none" stroke-linecap="round"/>
<path d="M211.07,442.27 L216.07,443.77" stroke="#d8bc30" stroke-width="1.4" fill="none" stroke-linecap="round"/>
<path d="M228,429.5 L235.2,435.62 L244,443.1" stroke="#c9a818" stroke-width="2.6" fill="none" stroke-linecap="round"/>
<path d="M228,429.5 L235.2,435.62 L244,443.1" stroke="#f2dc5a" stroke-width="1.4" fill="none" stroke-linecap="round"/>
<path d="M235.2,435.62 L240.2,437.12" stroke="#d8bc30" stroke-width="1.4" fill="none" stroke-linecap="round"/>
<path d="M26,456.5 L49.7,467.4 L53.7,493.2 L28,483.3 Z" fill="#d8d0aa" />
<path d="M49.7,467.4 L85.4,459.5 L85.4,483.3 L53.7,493.2 Z" fill="#cec59c" />
<path d="M26,456.5 L73.5,449.6 L85.4,459.5 L49.7,467.4 Z" fill="#e4e0cc" />
<path d="M30,458 L72,451.5 L81,459 L50,465 Z" fill="#ddd3a4" />
<path d="M28,462 L50,472 L84,464 M29,470 L51,480 L84.5,472 M38,460 L40,487 M60,465 L60,490 M72,462 L72,486" stroke="#bdb07a" stroke-width="0.5" fill="none" opacity="0.8"/>
<path d="M26,456.5 L49.7,467.4 L85.4,459.5 M49.7,467.4 L53.7,493.2" stroke="#e8e4d4" stroke-width="0.8" fill="none"/>
<path d="M50,432.7 L58.5,432.7 L69.6,461.5 L56,468 L41.8,465.4 Z" fill="url(#gPurp)" opacity="0.88"/>
<path d="M46,462 L66,458 M47,459.5 L65,455.5" stroke="#4a1a8a" stroke-width="0.6" opacity="0.8"/>
<path d="M40.8,406 L66.6,404 L66.6,419.8 L40.8,419.8 Z" fill="#b6b6b6" />
<path d="M40.8,406 L46,403.5 L66.6,403.5 L66.6,406 Z" fill="#d4d4d4" />
<path d="M49.7,419.8 L58.7,419.8 L58.7,432.7 L49.7,432.7 Z" fill="#a2a2a2" />
<text x="53.7" y="412" font-size="3.2" fill="#f0f0f0" text-anchor="middle">UV</text><text x="53.7" y="416.5" font-size="3.2" fill="#f0f0f0" text-anchor="middle">Projector</text>
<path d="M78.5,418 L88,415.9 L96.3,418.5 L96.3,465 L88,467.4 L78.5,464 Z" fill="#383838" />
<path d="M88,415.9 L96.3,418.5 L96.3,465 L88,467.4 Z" fill="#2a2a2a" />
<path d="M82,422 L82,462 M85.5,421 L85.5,461" stroke="#8a8a8a" stroke-width="1" fill="none"/>
<path d="M61.6,435 L80,431.5 L85.4,433.7 L85.4,438.5 L61.6,441 Z" fill="#606060" />
<path d="M62.6,441 L65.5,440.5 L65.5,457 L62.6,457.5 Z" fill="#4a4a4a" />
<path d="M70.5,440 L73.5,439.6 L73.5,456 L70.5,456.5 Z" fill="#4a4a4a" />
<path d="M60,458 L84,452 L86,456 L62,462 Z" fill="#d8cc70" opacity="0.8"/>
<g clip-path="url(#cPH1)">
<rect x="319.7" y="255.3" width="158.9" height="113.9" fill="url(#gPh1)"/>
<path d="M346,255 C347,275 345,290 346,305" stroke="#b4b4b4" stroke-width="0.6" fill="none"/>
<ellipse cx="336" cy="354" rx="18" ry="5" fill="#e4e4e4" filter="url(#b3)"/>
<ellipse cx="368" cy="356" rx="12" ry="4" fill="#dcdcdc" filter="url(#b3)"/>
<ellipse cx="402" cy="350" rx="10" ry="4" fill="#d8d8d8" filter="url(#b3)"/>
<path d="M373.8,321 C385,322.5 392,326 398,332 C404,337 410,337.6 420,337.6 L479,337.6 L479,345 L420,345 C408,345 400,343 394,338 C388,332 382,327 373.8,325 Z" fill="#e6e6e6"/>
<path d="M373.8,321 C386,323 393,328 399,333.5 C405,338 412,337.6 420,337.6 L479,337.6" stroke="#2a2a2a" stroke-width="1.4" fill="none"/>
<path d="M398,341 C404,345 410,345 420,345 L479,345" stroke="#8e8e8e" stroke-width="0.8" fill="none"/>
<path d="M410,318 C420,324 430,326 440,321 L479,305.2 L479,314 L442,328 C430,333 418,332 408,328 Z" fill="#ebebeb"/>
<path d="M419.5,324.6 C426,326 432,325 440,321.5 L479,305.2" stroke="#1e1e1e" stroke-width="1.6" fill="none"/>
<path d="M442,328.5 L479,314" stroke="#959595" stroke-width="0.8" fill="none"/>
<path d="M396.6,306.4 C405,305 412,302 421.7,299.5 L444.6,293.8 L478.8,279 L478.8,287 L444,302 C432,306 420,309 410,309.5 Z" fill="#eeeeee"/>
<path d="M396.6,306.2 C405,304.8 412,302 421.7,299.3 L444.6,293.6 L478.8,278.8" stroke="#141414" stroke-width="1.9" fill="none"/>
<path d="M432,305 L478.8,287" stroke="#8c8c8c" stroke-width="0.8" fill="none"/>
<path d="M426,308 L470,308" stroke="#555" stroke-width="0.8" fill="none"/>
<path d="M319.7,308 L396.6,306.4 C404,307 410,310 413,316 C414,322 410,326 404,327 L373.8,322.5 L319.7,322.5 Z" fill="#ececec"/>
<path d="M319.7,308.5 L396.6,306.8 L396.6,312.5 L319.7,314 Z" fill="#404040" opacity="0.75" filter="url(#b05)"/>
<path d="M319.7,308.2 L360,307.4 L396.6,306.4" stroke="#121212" stroke-width="1.8" fill="none"/>
<path d="M319.7,317.3 L392,316.5" stroke="#fbfbfb" stroke-width="2.6" fill="none" filter="url(#b05)"/>
<path d="M319.7,322.6 L373.8,322.4" stroke="#9a9a9a" stroke-width="0.9" fill="none"/>
<ellipse cx="410" cy="320" rx="9" ry="12" fill="#d2d2d2" filter="url(#b1)"/>
<ellipse cx="406" cy="315" rx="4" ry="5" fill="#fafafa" filter="url(#b1)"/>
<ellipse cx="414" cy="328" rx="4.5" ry="3.5" fill="#f6f6f6" filter="url(#b1)"/>
<path d="M470,323 L470,337 M466.5,332 L470,337.5 L473.5,332" stroke="#666" stroke-width="1" fill="none"/>
<rect x="319.7" y="255.3" width="158.9" height="113.9" fill="#000" filter="url(#nz)" opacity="0.06"/>
</g>
<rect x="319.7" y="369.2" width="158.9" height="1.6" fill="#f6f6f6"/>
<g clip-path="url(#cPH2)">
<rect x="319.8" y="370.8" width="158.2" height="114.5" fill="url(#gPh2)"/>
<path d="M346,371 L346,486" stroke="#e8e8e8" stroke-width="0.7" opacity="0.8"/>
<path d="M388,371 L388,486" stroke="#e8e8e8" stroke-width="0.7" opacity="0.8"/>
<path d="M404,371 L404,486" stroke="#e8e8e8" stroke-width="0.7" opacity="0.8"/>
<path d="M441,371 L441,486" stroke="#e8e8e8" stroke-width="0.7" opacity="0.8"/>
<path d="M462,371 L462,486" stroke="#e8e8e8" stroke-width="0.7" opacity="0.8"/>
<path d="M362,428 C372,436 382,446 390,456 L382,458 C372,448 365,440 358,432 Z" fill="#b8b8b8" filter="url(#b3)"/>
<path d="M396,420 C404,424 408,432 413,439 C418,446 424,450.5 436,450.5 L482,450.5" stroke="#7c7c7c" stroke-width="11" fill="none" stroke-linejoin="round"/>
<path d="M396,420 C404,424 408,432 413,439 C418,446 424,450.5 436,450.5 L482,450.5" stroke="#c9c9c9" stroke-width="9" fill="none" stroke-linejoin="round"/>
<path d="M396,420 C404,424 408,432 413,439 C418,446 424,450.5 436,450.5 L482,450.5" stroke="#f4f4f4" stroke-width="2.4" fill="none" stroke-linejoin="round" transform="translate(0,-0.8)" opacity="0.9"/>
<path d="M400,412 L482,412" stroke="#7c7c7c" stroke-width="11.5" fill="none" stroke-linejoin="round"/>
<path d="M400,412 L482,412" stroke="#d0d0d0" stroke-width="9.5" fill="none" stroke-linejoin="round"/>
<path d="M400,412 L482,412" stroke="#f4f4f4" stroke-width="2.5" fill="none" stroke-linejoin="round" transform="translate(0,-0.5)" opacity="0.9"/>
<path d="M316,413.3 L398,413.8 C402,414 405,413 408,412" stroke="#8a8a8a" stroke-width="19.5" fill="none" stroke-linejoin="round"/>
<path d="M316,413.3 L398,413.8 C402,414 405,413 408,412" stroke="#c2c2c2" stroke-width="17.5" fill="none" stroke-linejoin="round"/>
<path d="M316,413.3 L398,413.8 C402,414 405,413 408,412" stroke="#f4f4f4" stroke-width="4.3" fill="none" stroke-linejoin="round" transform="translate(0,0.5)" opacity="0.9"/>
<path d="M316,404.5 L408.6,405.5 L408.6,409.5 L316,409 Z" fill="#8a8a8a" opacity="0.75" filter="url(#b05)"/>
<path d="M319.8,403.6 L408.6,404.8 L479,406" stroke="#3a3a3a" stroke-width="1.5" fill="none"/>
<ellipse cx="401" cy="420" rx="6" ry="8" fill="#d2d2d2" filter="url(#b1)"/>
<rect x="319.8" y="370.8" width="158.2" height="114.5" fill="#000" filter="url(#nz)" opacity="0.06"/>
</g>
<path d="M342.7,352.5 L357.3,352.5 L357.3,379.5 L364.5,379.5 L349.8,394.8 L335.1,379.5 L342.7,379.5 Z" fill="url(#gArrowD)"/>
<text x="403.9" y="281.8" font-size="12.4" font-weight="normal" font-style="italic" fill="#111" text-anchor="start" textLength="44.2" lengthAdjust="spacingAndGlyphs" >Top half</text>
<text x="404.9" y="360.4" font-size="12.4" font-weight="normal" font-style="italic" fill="#111" text-anchor="start" textLength="66.7" lengthAdjust="spacingAndGlyphs" >Bottom half</text>
<text x="376.9" y="476.9" font-size="12.4" font-weight="normal" font-style="italic" fill="#111" text-anchor="start" textLength="87.1" lengthAdjust="spacingAndGlyphs" >Closed together</text>
<rect x="330" y="478.4" width="16.8" height="2.2" fill="#000"/>
<path d="M290.5,438.1 L296.1,438.1 L306.1,453.6 L296.1,469.1 L290.5,469.1 L300.5,453.6 Z" fill="#fff" fill-opacity="0.35" stroke="#70ad47" stroke-width="1.2"/>
<path d="M301.3,438.1 L306.90000000000003,438.1 L316.90000000000003,453.6 L306.90000000000003,469.1 L301.3,469.1 L311.3,453.6 Z" fill="#fff" fill-opacity="0.35" stroke="#70ad47" stroke-width="1.2"/>
<path d="M312.1,438.1 L317.70000000000005,438.1 L327.70000000000005,453.6 L317.70000000000005,469.1 L312.1,469.1 L322.1,453.6 Z" fill="#fff" fill-opacity="0.35" stroke="#70ad47" stroke-width="1.2"/>
<path d="M464.6,369.4 L470.20000000000005,369.4 L480.20000000000005,384.9 L470.20000000000005,400.4 L464.6,400.4 L474.6,384.9 Z" fill="#fff" fill-opacity="0.35" stroke="#70ad47" stroke-width="1.2"/>
<path d="M475.40000000000003,369.4 L481.00000000000006,369.4 L491.00000000000006,384.9 L481.00000000000006,400.4 L475.40000000000003,400.4 L485.40000000000003,384.9 Z" fill="#fff" fill-opacity="0.35" stroke="#70ad47" stroke-width="1.2"/>
<path d="M486.20000000000005,369.4 L491.80000000000007,369.4 L501.80000000000007,384.9 L491.80000000000007,400.4 L486.20000000000005,400.4 L496.20000000000005,384.9 Z" fill="#fff" fill-opacity="0.35" stroke="#70ad47" stroke-width="1.2"/>
<path d="M505.6,402.4 L518.7,397.7 L640,408 L702,405 L728.4,409.3 L733.5,418 L731,436 L720,453 L707,464 L687,470.5 L674,469.2 L674,466 L650,461 L650,457 L597,447 L597,438 L576.5,434 L576.5,437.5 L539.2,432 L539.2,425 L518.7,422 L518.7,420.5 L505.6,420 Z" fill="#f8f8f8" />
<path d="M522,401 L545,404 M524,404 L547,407.5" stroke="#d0d0d0" stroke-width="1" fill="none"/>
<path d="M505.6,406 L518.7,408 L518.7,420.5 L505.6,420 Z" fill="#e2e2e2" />
<path d="M505.6,404 L509,403 L509,420 L505.6,420 Z" fill="#cccccc" />
<path d="M518.7,410 L539.2,413 L539.2,425 L518.7,422 Z" fill="#d8d8d8" />
<path d="M539.2,414.5 L576.5,420 L576.5,437.5 L539.2,432 Z" fill="#e4e4e4" />
<path d="M572,419.5 L576.5,420 L576.5,437.5 L572,437 Z" fill="#cdcdcd" />
<path d="M576.5,424 L597,428 L597,438 L576.5,434 Z" fill="#d6d6d6" />
<path d="M597,429.5 L650,437 L650,457 L597,447 Z" fill="#e2e2e2" />
<path d="M645,436.5 L650,437 L650,457 L645,456 Z" fill="#cbcbcb" />
<path d="M650,442 L674,447 L674,466 L650,461 Z" fill="#d4d4d4" />
<path d="M674,452.9 L687,453.5 C700,452 716,444 726,434 L731,428 L731,436 C728,446 718,456 707,464 L687,470.5 L674,469.2 Z" fill="url(#gCurve)"/>
<path d="M674,452.9 L687,453.5 L687,470.5 L674,469.2 Z" fill="#e6e6e6" />
<path d="M508,364 L545,371 L600,377 L660,375 L700,367 L712,370 L722,396 L693.5,423.4 L640,416.4 L517.7,391.2 Z" fill="#adb2b8" />
<path d="M600,377 L660,375 L700,367 L712,370 L722,396 L693.5,423.4 L640,416.4 L600,408 Z" fill="#b8bcc2" />
<path d="M517.7,391.2 L640,416.4 L693.5,424 L724,402.7 L724,407 L693.5,430 L640,421 L517.7,394.8 Z" fill="#9cb2cd" />
<path d="M600,408 L700,398 M640,416 L712,388 M560,399 L620,390" stroke="#c8ccd0" stroke-width="0.6" fill="none"/>
<path d="M508,356 L525,362 L564,365 L590,370 L644,372 L700,360 L704,368 L660,381 L600,384 L545,380 L518.7,384 L508,372 Z" fill="#dcdcdc" />
<path d="M508,356 L525,362 L564,365 L590,370 L644,372 L700,360 L702,364 L660,374 L600,377 L545,372 L508,363 Z" fill="#e6e6e6" />
<path d="M533,366 L546,367.5 L545,390 L535,388 Z" fill="#9c9c9c" />
<path d="M533,366 L537,366.5 L538,388.5 L535,388 Z" fill="#cdcdcd" />
<ellipse cx="540.5" cy="367.5" rx="5.5" ry="1.6" fill="#7a7a7a"/>
<path d="M562,370 L575,371.5 L574,394 L564,392 Z" fill="#9c9c9c" />
<path d="M562,370 L566,370.5 L567,392.5 L564,392 Z" fill="#cdcdcd" />
<ellipse cx="569.5" cy="371.5" rx="5.5" ry="1.6" fill="#7a7a7a"/>
<path d="M593,373 L606,374.5 L605,397 L595,395 Z" fill="#9c9c9c" />
<path d="M593,373 L597,373.5 L598,395.5 L595,395 Z" fill="#cdcdcd" />
<ellipse cx="600.5" cy="374.5" rx="5.5" ry="1.6" fill="#7a7a7a"/>
<path d="M627,372 L640,373.5 L639,397 L629,395 Z" fill="#9c9c9c" />
<path d="M627,372 L631,372.5 L632,395.5 L629,395 Z" fill="#cdcdcd" />
<ellipse cx="634.5" cy="373.5" rx="5.5" ry="1.6" fill="#7a7a7a"/>
<path d="M672,366 L684,367.5 L683,392 L674,390 Z" fill="#9c9c9c" />
<path d="M672,366 L676,366.5 L677,390.5 L674,390 Z" fill="#cdcdcd" />
<ellipse cx="679.0" cy="367.5" rx="5.5" ry="1.6" fill="#7a7a7a"/>
<path d="M686,351 L712,356 L722,394 L700,392 L690,375 Z" fill="#c6c6c6" />
<path d="M703,358 L712,356 L722,394 L713,394 Z" fill="#a9a9a9" />
<path d="M522.7,334 L564.3,337.5 L564.3,366 L524,363 Z" fill="#fbfbfb" />
<path d="M590.3,340 L644,345 L644,372 L590.3,370 Z" fill="#fbfbfb" />
<path d="M672,348 L700,351 L700,362 L672,372 Z" fill="#f2f2f2" />
<path d="M492.3,322.7 L505,315 L520,309.5 L560,306 L600,304.5 L640,305 L675,307 L705,311 L725,317 L736,323 L737.5,328 L730,335 L700,343 L675,346 L620,340 L585,338 L557,334 L522.7,329 L492.3,323.5 Z" fill="url(#gSlab)" />
<path d="M492.3,323.5 L522.7,329 L557,334 L585,338 L620,340 L675,346 L700,343 L730,335 L737.5,328 L735,339.5 L700,349 L675,352 L620,346 L585,344.5 L557,339 L522.7,335 L501.9,331 L492.3,328 Z" fill="#e0e0e0" />
<g transform="rotate(-9 543 315.5)"><rect x="519.0" y="310.5" width="48" height="10" rx="5" fill="#d3d3d3"/><rect x="522.0" y="312.3" width="42" height="6.4" rx="3.2" fill="#c4c4c4"/><rect x="524.0" y="316.3" width="31.200000000000003" height="2.4" rx="1.2" fill="#a2a2a2"/></g>
<g transform="rotate(-10 576.5 319.5)"><rect x="553.5" y="314.5" width="46" height="10" rx="5" fill="#d3d3d3"/><rect x="556.5" y="316.3" width="40" height="6.4" rx="3.2" fill="#c4c4c4"/><rect x="558.5" y="320.3" width="29.900000000000002" height="2.4" rx="1.2" fill="#a2a2a2"/></g>
<g transform="rotate(-10 609 323)"><rect x="588.0" y="318" width="42" height="10" rx="5" fill="#d3d3d3"/><rect x="591.0" y="319.8" width="36" height="6.4" rx="3.2" fill="#c4c4c4"/><rect x="593.0" y="323.8" width="27.3" height="2.4" rx="1.2" fill="#a2a2a2"/></g>
<g transform="rotate(-8 645.5 325.5)"><rect x="625.5" y="320.5" width="40" height="10" rx="5" fill="#d3d3d3"/><rect x="628.5" y="322.3" width="34" height="6.4" rx="3.2" fill="#c4c4c4"/><rect x="630.5" y="326.3" width="26.0" height="2.4" rx="1.2" fill="#a2a2a2"/></g>
<g transform="rotate(-4 687 330)"><rect x="665.0" y="325" width="44" height="10" rx="5" fill="#d3d3d3"/><rect x="668.0" y="326.8" width="38" height="6.4" rx="3.2" fill="#c4c4c4"/><rect x="670.0" y="330.8" width="28.6" height="2.4" rx="1.2" fill="#a2a2a2"/></g>
<path d="M501.9,328 L522.7,331 L524,362.6 L505,362 L502,345 Z" fill="url(#gLeg)" />
<path d="M519.5,331 L522.7,331 L524,362.6 L520.5,362.6 Z" fill="#d4d4d4" />
<path d="M564.3,337.5 L590.3,340 L590.3,379 L564.3,377 Z" fill="url(#gLeg)" />
<path d="M644,345 L672,347.5 L672,386 L646,384 Z" fill="url(#gLeg)" />
<path d="M710,343.5 L721,340.5 L721,356 L710,359 Z" fill="#c9c9c9" />
<path d="M537.5,345.5 C539.0,351.71 544.0,357.09999999999997 544.0,359.7 A6.5,6.5 0 0 1 531.0,359.7 C531.0,357.09999999999997 536.0,351.71 537.5,345.5 Z" fill="#f00a0a"/>
<path d="M568.1,351 C569.6,357.3 574.6,362.9 574.6,365.5 A6.5,6.5 0 0 1 561.6,365.5 C561.6,362.9 566.6,357.3 568.1,351 Z" fill="#f00a0a"/>
<path d="M601.1,354.3 C602.6,360.42 607.6,365.59999999999997 607.6,368.2 A6.5,6.5 0 0 1 594.6,368.2 C594.6,365.59999999999997 599.6,360.42 601.1,354.3 Z" fill="#f00a0a"/>
<path d="M633.7,354.3 C635.2,360.42 640.2,365.59999999999997 640.2,368.2 A6.5,6.5 0 0 1 627.2,368.2 C627.2,365.59999999999997 632.2,360.42 633.7,354.3 Z" fill="#f00a0a"/>
<path d="M672.5,348.9 C674.0,355.02 679.0,360.2 679.0,362.8 A6.5,6.5 0 0 1 666.0,362.8 C666.0,360.2 671.0,355.02 672.5,348.9 Z" fill="#f00a0a"/>
<path d="M520.8,372 L520.8,403.8" stroke="#555" stroke-width="0.9" stroke-dasharray="2.2 1.6"/>
<path d="M518.1999999999999,402.3 L520.8,406.8 L523.4,402.3 Z" fill="#444"/>
<path d="M588.3,382 L588.3,426.6" stroke="#555" stroke-width="0.9" stroke-dasharray="2.2 1.6"/>
<path d="M585.6999999999999,425.1 L588.3,429.6 L590.9,425.1 Z" fill="#444"/>
<path d="M664,390 L664,447.7" stroke="#555" stroke-width="0.9" stroke-dasharray="2.2 1.6"/>
<path d="M661.4,446.2 L664,450.7 L666.6,446.2 Z" fill="#444"/>
<path d="M556,336 L533.7,437.6 L556.5,426.6" stroke="#000" stroke-width="1.3" fill="none"/>
<circle cx="556" cy="336" r="2"/><circle cx="556.5" cy="426.6" r="2"/>
<path d="M691.2,377.6 L699.5,339.5 L703,394.3" stroke="#000" stroke-width="1.3" fill="none"/>
<circle cx="691.2" cy="377.6" r="2"/><circle cx="703" cy="394.3" r="2"/>
<text x="647" y="303.3" font-size="12.2" font-weight="normal" font-style="normal" fill="#222" text-anchor="start" textLength="95.5" lengthAdjust="spacingAndGlyphs" >Full-lumen vessel</text>
<text x="669.1" y="319.4" font-size="12.2" font-weight="normal" font-style="normal" fill="#222" text-anchor="start" textLength="51" lengthAdjust="spacingAndGlyphs" >assembly</text>
<text x="572.2" y="341" font-size="12.3" font-weight="normal" font-style="normal" fill="#dc2f35" text-anchor="start" textLength="75.4" lengthAdjust="spacingAndGlyphs" >Blood inlet x5</text>
<text x="503" y="455.4" font-size="12.3" font-weight="normal" font-style="normal" fill="#222" text-anchor="start" textLength="74.4" lengthAdjust="spacingAndGlyphs" >Dual-material</text>
<text x="495" y="472.3" font-size="12.3" font-weight="normal" font-style="normal" fill="#222" text-anchor="start" textLength="91.3" lengthAdjust="spacingAndGlyphs" >clamping system</text></svg>
</body></html>
